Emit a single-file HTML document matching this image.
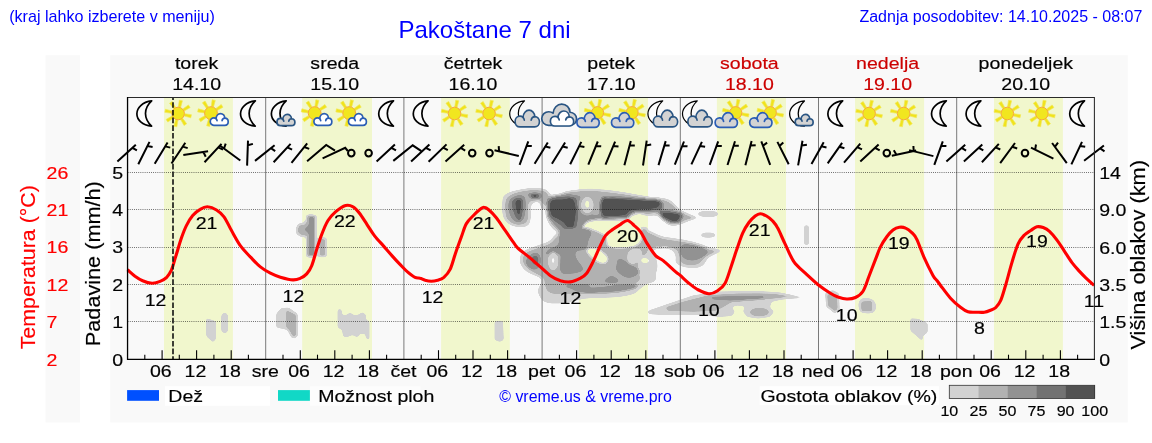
<!DOCTYPE html>
<html><head><meta charset="utf-8"><title>Pakoštane 7 dni</title>
<style>html,body{margin:0;padding:0;background:#fff;}svg{display:block;font-family:"Liberation Sans",sans-serif;}</style>
</head><body>
<svg width="1152" height="443" viewBox="0 0 1152 443">
<rect x="0" y="0" width="1152" height="443" fill="#fff"/>
<rect x="45.5" y="55.2" width="34.5" height="367.3" fill="#f9f9f9"/>
<rect x="110.2" y="55.2" width="1017.6" height="367.3" fill="#f9f9f9"/>
<rect x="164.0" y="97.5" width="68.9" height="261.9" fill="#f1f7cd"/>
<rect x="302.2" y="97.5" width="69.8" height="261.9" fill="#f1f7cd"/>
<rect x="441.1" y="97.5" width="68.7" height="261.9" fill="#f1f7cd"/>
<rect x="578.9" y="97.5" width="69.1" height="261.9" fill="#f1f7cd"/>
<rect x="716.9" y="97.5" width="69.1" height="261.9" fill="#f1f7cd"/>
<rect x="855.0" y="97.5" width="69.1" height="261.9" fill="#f1f7cd"/>
<rect x="994.0" y="97.5" width="68.9" height="261.9" fill="#f1f7cd"/>
<defs><filter id="cq" filterUnits="userSpaceOnUse" x="127" y="97" width="968.5" height="262" color-interpolation-filters="sRGB"><feGaussianBlur stdDeviation="1.3"/><feColorMatrix type="matrix" values="1 0 0 0 0  1 0 0 0 0  1 0 0 0 0  1 0 0 0 0"/><feComponentTransfer><feFuncR type="table" tableValues="0.824 0.824 0.824 0.824 0.824 0.824 0.824 0.824 0.824 0.824 0.824 0.824 0.824 0.824 0.824 0.824 0.824 0.824 0.761 0.698 0.698 0.698 0.698 0.698 0.698 0.698 0.698 0.698 0.698 0.698 0.635 0.573 0.573 0.573 0.573 0.573 0.573 0.573 0.573 0.573 0.573 0.573 0.510 0.447 0.447 0.447 0.447 0.447 0.447 0.447 0.447 0.447 0.447 0.447 0.385 0.322 0.322 0.322 0.322 0.322 0.322"/><feFuncG type="table" tableValues="0.824 0.824 0.824 0.824 0.824 0.824 0.824 0.824 0.824 0.824 0.824 0.824 0.824 0.824 0.824 0.824 0.824 0.824 0.761 0.698 0.698 0.698 0.698 0.698 0.698 0.698 0.698 0.698 0.698 0.698 0.635 0.573 0.573 0.573 0.573 0.573 0.573 0.573 0.573 0.573 0.573 0.573 0.510 0.447 0.447 0.447 0.447 0.447 0.447 0.447 0.447 0.447 0.447 0.447 0.385 0.322 0.322 0.322 0.322 0.322 0.322"/><feFuncB type="table" tableValues="0.824 0.824 0.824 0.824 0.824 0.824 0.824 0.824 0.824 0.824 0.824 0.824 0.824 0.824 0.824 0.824 0.824 0.824 0.761 0.698 0.698 0.698 0.698 0.698 0.698 0.698 0.698 0.698 0.698 0.698 0.635 0.573 0.573 0.573 0.573 0.573 0.573 0.573 0.573 0.573 0.573 0.573 0.510 0.447 0.447 0.447 0.447 0.447 0.447 0.447 0.447 0.447 0.447 0.447 0.385 0.322 0.322 0.322 0.322 0.322 0.322"/><feFuncA type="table" tableValues="0.000 0.000 0.000 0.000 0.000 0.000 0.500 1.000 1.000 1.000 1.000 1.000 1.000 1.000 1.000 1.000 1.000 1.000 1.000 1.000 1.000 1.000 1.000 1.000 1.000 1.000 1.000 1.000 1.000 1.000 1.000 1.000 1.000 1.000 1.000 1.000 1.000 1.000 1.000 1.000 1.000 1.000 1.000 1.000 1.000 1.000 1.000 1.000 1.000 1.000 1.000 1.000 1.000 1.000 1.000 1.000 1.000 1.000 1.000 1.000 1.000"/></feComponentTransfer></filter><clipPath id="pc"><rect x="128" y="98" width="966.5" height="260.5"/></clipPath></defs><g clip-path="url(#pc)"><g filter="url(#cq)"><rect x="100" y="80" width="1030" height="300" fill="#000"/><path d="M206.2,318.0 L216.2,321.2 L216.2,338.8 L213.0,342.5 L206.2,336.2Z" fill="rgb(51,51,51)"/><path d="M221.2,315.0 L225.0,312.0 L228.0,315.0 L228.0,331.2 L225.0,333.8 L221.2,331.2Z" fill="rgb(51,51,51)"/><path d="M276.2,313.8 L281.2,308.0 L288.8,307.5 L297.5,313.8 L298.0,335.0 L295.0,338.8 L291.2,337.5 L287.5,330.0 L276.2,327.5Z" fill="rgb(51,51,51)"/><path d="M286.2,310.0 L296.2,315.0 L296.2,336.2 L292.5,336.2 L290.0,331.2 L286.2,327.5Z" fill="rgb(102,102,102)"/><path d="M337.5,309.5 L341.2,308.8 L342.5,315.0 L346.2,315.0 L350.0,312.5 L353.8,315.0 L357.5,315.0 L362.5,312.0 L366.2,315.0 L366.2,320.0 L369.5,321.2 L369.5,340.0 L366.2,338.8 L365.0,333.8 L360.0,333.8 L357.5,337.5 L352.5,335.0 L346.2,337.5 L343.0,336.2 L342.0,330.0 L337.5,327.5Z" fill="rgb(51,51,51)"/><path d="M295.6,229.4 L297.6,224.0 L303.0,222.6 L306.0,219.9 L306.0,215.2 L311.2,214.2 L316.6,215.8 L316.6,256.5 L311.2,257.6 L306.0,256.5 L306.0,237.5 L300.3,236.8 L296.3,234.1Z" fill="rgb(51,51,51)"/><path d="M317.9,237.5 L326.7,237.5 L326.7,257.1 L317.9,257.1Z" fill="rgb(51,51,51)"/><path d="M297.6,229.4 L299.6,225.3 L304.4,225.0 L307.4,221.3 L307.4,216.1 L315.5,216.1 L315.5,256.2 L307.4,256.2 L307.4,235.9 L301.7,235.1 L298.3,232.8Z" fill="rgb(102,102,102)"/><path d="M319.6,239.1 L325.1,239.1 L325.1,255.8 L319.6,255.8Z" fill="rgb(102,102,102)"/><path d="M304.1,229.4 L308.7,225.3 L308.7,216.6 L313.9,216.6 L313.9,255.7 L308.7,255.7 L308.7,233.4Z" fill="rgb(153,153,153)"/><path d="M494.5,321.2 L503.0,320.5 L503.8,340.0 L500.0,342.0 L494.5,340.0Z" fill="rgb(51,51,51)"/><path d="M825.2,292.6 L833.0,290.0 L839.1,293.5 L839.6,310.0 L834.8,313.4 L826.1,306.5Z" fill="rgb(51,51,51)"/><path d="M827.1,294.3 L837.2,294.3 L837.7,308.9 L834.8,311.4 L827.8,305.4Z" fill="rgb(102,102,102)"/><path d="M859.1,301.3 C860.3,298.7 862.9,297.7 866.0,297.8 C869.2,297.9 872.9,299.0 874.7,301.6 C876.5,304.2 876.5,308.5 875.1,310.8 C873.7,313.2 870.8,313.4 867.8,313.4 C864.7,313.4 861.7,313.3 859.9,310.8 C858.2,308.4 857.9,303.9 859.1,301.3Z" fill="rgb(51,51,51)"/><path d="M861.3,301.5 L872.1,301.1 L872.1,311.5 L861.3,311.2Z" fill="rgb(102,102,102)"/><path d="M910.3,318.3 L918.2,318.7 L927.7,323.0 L927.7,332.6 L923.0,336.0 L922.5,341.2 L910.3,330.8Z" fill="rgb(51,51,51)"/><path d="M803.8,226.4 L806.4,224.7 L809.2,226.4 L809.2,243.8 L806.4,245.4 L803.8,243.8Z" fill="rgb(51,51,51)"/><path d="M718.6,213.9 C718.6,214.5 718.4,214.8 717.6,215.4 C716.8,215.9 716.1,216.2 714.7,216.5 C713.3,216.9 712.3,217.0 710.5,217.1 C708.8,217.3 707.7,217.3 705.9,217.1 C704.1,217.0 703.1,216.9 701.7,216.5 C700.3,216.2 699.6,215.9 698.8,215.4 C698.0,214.8 697.8,214.5 697.8,213.9 C697.8,213.4 698.0,213.0 698.8,212.5 C699.6,212.0 700.3,211.7 701.7,211.3 C703.1,211.0 704.1,210.8 705.9,210.7 C707.7,210.6 708.8,210.6 710.5,210.7 C712.3,210.8 713.3,211.0 714.7,211.3 C716.1,211.7 716.8,212.0 717.6,212.5 C718.4,213.0 718.6,213.4 718.6,213.9Z" fill="rgb(51,51,51)"/><path d="M715.9,235.1 C715.9,235.6 715.7,235.9 715.1,236.3 C714.5,236.7 714.0,236.9 713.0,237.2 C711.9,237.4 711.2,237.6 709.9,237.7 C708.6,237.8 707.8,237.8 706.5,237.7 C705.2,237.6 704.5,237.4 703.4,237.2 C702.4,236.9 701.9,236.7 701.3,236.3 C700.7,235.9 700.6,235.6 700.6,235.1 C700.6,234.7 700.7,234.4 701.3,234.0 C701.9,233.6 702.4,233.4 703.4,233.1 C704.5,232.8 705.2,232.7 706.5,232.6 C707.8,232.5 708.6,232.5 709.9,232.6 C711.2,232.7 711.9,232.8 713.0,233.1 C714.0,233.4 714.5,233.6 715.1,234.0 C715.7,234.4 715.9,234.7 715.9,235.1Z" fill="rgb(51,51,51)"/><path d="M545.6,196.9 C548.4,194.2 555.0,195.0 559.5,193.8 C564.0,192.6 562.6,192.0 568.2,191.0 C573.8,190.0 580.4,189.0 587.3,188.7 C594.3,188.5 596.0,188.9 602.9,189.6 C609.9,190.3 613.4,190.7 622.1,192.0 C630.7,193.4 638.4,195.0 646.4,196.2 C654.4,197.4 657.3,197.0 662.2,197.9 C667.1,198.8 667.4,198.5 670.9,200.7 C674.4,202.9 675.8,206.4 679.6,209.1 C683.4,211.8 686.5,212.5 690.0,214.3 C693.5,216.0 697.0,216.5 697.0,217.8 C697.0,219.0 693.1,219.3 690.0,220.5 C686.9,221.8 685.1,223.0 681.3,224.0 C677.5,225.0 674.4,226.1 670.9,225.6 C667.4,225.1 666.6,223.5 663.8,221.6 C660.9,219.7 660.3,217.2 656.8,216.0 C653.3,214.8 649.9,216.1 646.4,215.7 C642.9,215.3 642.4,213.8 639.4,213.9 C636.5,214.1 634.0,215.2 631.6,216.4 C629.2,217.5 631.3,218.9 627.3,219.8 C623.3,220.7 618.2,220.7 611.6,220.9 C605.0,221.1 599.6,220.1 594.3,220.9 C588.9,221.6 587.3,222.2 584.7,224.7 C582.1,227.2 582.6,230.1 581.2,233.4 C579.8,236.7 579.7,239.0 577.7,241.2 C575.8,243.5 574.6,244.5 571.7,244.7 C568.7,244.9 565.8,244.3 563.0,242.1 C560.2,239.8 560.2,236.5 557.8,233.4 C555.3,230.3 553.1,229.6 550.8,226.4 C548.6,223.3 547.5,221.6 546.5,217.8 C545.4,213.9 545.8,211.5 545.6,207.3 C545.4,203.2 542.8,199.6 545.6,196.9Z" fill="rgb(51,51,51)"/><path d="M502.2,203.0 C502.9,199.5 501.8,196.9 506.0,194.1 C510.2,191.3 515.8,190.0 523.0,188.9 C530.2,187.8 536.7,187.6 542.1,188.6 C547.5,189.5 548.1,191.4 549.9,193.8 C551.8,196.1 551.2,197.3 551.2,200.4 C551.2,203.4 551.8,207.3 549.9,209.1 C548.1,210.8 544.2,210.3 542.1,209.1 C540.0,207.8 541.1,204.3 539.5,203.0 C538.0,201.7 536.0,201.6 534.3,202.5 C532.6,203.3 531.5,204.3 530.8,207.3 C530.1,210.4 531.5,214.1 530.8,217.8 C530.1,221.4 530.3,223.9 527.4,225.7 C524.4,227.6 520.3,227.6 516.1,226.8 C511.8,226.0 508.8,224.6 506.0,221.6 C503.2,218.6 502.9,215.4 502.2,211.7 C501.4,208.0 501.4,206.5 502.2,203.0Z" fill="rgb(51,51,51)"/><path d="M505.3,203.9 C506.0,200.9 505.0,198.8 508.8,196.2 C512.5,193.6 517.4,192.1 523.9,191.0 C530.4,189.9 536.4,189.8 541.3,190.6 C546.1,191.5 546.8,192.5 548.2,195.2 C549.6,197.8 549.1,201.9 548.2,203.9 C547.3,205.8 545.4,205.4 543.9,204.7 C542.3,204.0 542.5,201.3 540.4,200.4 C538.3,199.4 535.9,199.2 533.4,200.0 C531.0,200.9 529.3,201.3 528.2,204.7 C527.2,208.1 528.9,213.2 528.2,216.9 C527.5,220.6 527.2,221.8 524.8,223.3 C522.3,224.8 519.5,225.1 516.1,224.4 C512.7,223.6 509.9,222.2 507.7,219.5 C505.6,216.8 505.8,213.9 505.3,210.8 C504.8,207.7 504.6,206.8 505.3,203.9Z" fill="rgb(102,102,102)"/><path d="M508.8,202.1 C509.7,198.7 511.7,197.9 514.3,196.6 C517.0,195.2 519.9,194.7 522.1,195.5 C524.4,196.3 525.1,196.4 525.6,200.4 C526.1,204.3 525.7,210.9 524.8,215.1 C523.8,219.4 523.0,220.4 520.9,221.6 C518.8,222.7 516.6,222.5 514.3,220.9 C512.0,219.2 510.6,217.2 509.5,213.4 C508.3,209.7 507.8,205.5 508.8,202.1Z" fill="rgb(153,153,153)"/><path d="M528.2,193.8 C530.0,192.7 536.7,192.5 539.5,193.1 C542.3,193.7 542.6,195.6 542.1,196.9 C541.6,198.2 539.2,199.2 536.9,199.5 C534.7,199.9 532.6,199.8 530.8,198.6 C529.1,197.5 526.5,194.9 528.2,193.8Z" fill="rgb(153,153,153)"/><path d="M512.6,200.4 C514.2,197.7 519.2,197.2 521.3,198.3 C523.4,199.3 523.0,201.7 523.0,205.6 C523.0,209.5 522.3,214.9 521.3,217.8 C520.2,220.6 519.4,221.1 517.8,219.8 C516.2,218.6 514.5,215.6 513.5,211.7 C512.4,207.8 511.0,203.1 512.6,200.4Z" fill="rgb(204,204,204)"/><path d="M530.8,194.3 C532.1,193.6 537.1,193.6 538.7,194.3 C540.2,195.0 539.9,197.1 538.7,197.8 C537.4,198.5 534.1,198.5 532.6,197.8 C531.0,197.1 529.6,195.0 530.8,194.3Z" fill="rgb(204,204,204)"/><path d="M515.7,201.4 C516.6,199.7 520.0,198.8 520.9,200.4 C521.9,201.9 521.0,206.0 520.6,209.1 C520.2,212.1 519.7,215.7 518.8,215.7 C518.0,215.7 517.0,211.9 516.4,209.1 C515.8,206.2 514.8,203.2 515.7,201.4Z" fill="rgb(255,255,255)"/><path d="M532.6,194.8 C533.4,194.4 536.5,194.4 537.3,194.8 C538.1,195.2 537.4,196.5 536.6,196.9 C535.7,197.3 533.9,197.3 533.1,196.9 C532.3,196.5 531.7,195.2 532.6,194.8Z" fill="rgb(255,255,255)"/><path d="M548.2,199.0 C550.6,196.6 555.5,196.8 559.5,195.5 C563.5,194.3 562.6,193.7 568.2,192.7 C573.8,191.8 580.4,191.0 587.3,190.8 C594.3,190.6 596.0,191.0 602.9,191.7 C609.9,192.3 613.4,192.9 622.1,194.1 C630.7,195.4 638.4,196.8 646.4,197.9 C654.4,199.1 657.3,199.0 662.0,200.0 C666.7,201.0 666.7,201.0 669.8,203.0 C673.0,205.0 674.4,207.5 677.7,209.9 C681.0,212.4 683.4,213.5 686.4,215.1 C689.3,216.8 692.4,217.3 692.4,218.3 C692.4,219.2 688.8,219.0 686.4,219.8 C683.9,220.6 683.2,221.5 680.3,222.3 C677.3,223.1 674.5,224.2 671.6,223.8 C668.6,223.5 668.1,222.3 665.5,220.4 C662.9,218.4 662.4,215.3 658.5,213.9 C654.7,212.6 650.6,213.9 646.4,213.6 C642.2,213.3 641.0,212.2 637.7,212.5 C634.4,212.9 632.1,213.9 629.9,215.1 C627.6,216.4 630.1,217.8 626.4,218.6 C622.8,219.5 617.7,219.3 611.6,219.5 C605.6,219.7 601.2,218.9 596.0,219.5 C590.8,220.1 588.3,220.5 585.6,222.6 C582.8,224.7 583.7,226.7 582.1,229.9 C580.5,233.1 579.8,236.0 577.7,238.6 C575.7,241.2 574.3,242.4 571.7,242.9 C569.1,243.5 567.2,243.3 564.7,241.2 C562.3,239.1 561.9,235.8 559.5,232.5 C557.1,229.2 554.8,227.8 552.6,224.7 C550.3,221.6 549.2,220.4 548.2,216.9 C547.2,213.4 547.7,210.9 547.7,207.3 C547.7,203.7 545.8,201.3 548.2,199.0Z" fill="rgb(102,102,102)"/><path d="M547.3,197.8 L568.2,193.8 L580.4,196.0 L583.8,210.8 L594.3,215.1 L601.2,214.3 L601.2,198.6 L611.6,196.0 L646.4,199.5 L661.2,202.1 L663.8,209.1 L679.4,212.5 L682.9,217.8 L677.7,223.8 L667.2,221.2 L662.0,217.8 L656.8,210.8 L634.2,211.7 L627.3,217.8 L611.6,218.6 L597.7,218.6 L587.3,220.4 L582.1,226.4 L576.9,236.9 L571.7,242.1 L564.7,240.3 L559.5,229.9 L552.6,223.0 L547.3,216.0Z" fill="rgb(153,153,153)"/><path d="M596.0,205.1 C596.0,206.9 595.8,208.0 595.1,209.6 C594.5,211.2 593.9,212.1 592.7,213.2 C591.5,214.3 590.7,214.8 589.2,215.2 C587.8,215.6 586.8,215.6 585.4,215.2 C583.9,214.8 583.1,214.3 581.9,213.2 C580.7,212.1 580.1,211.2 579.5,209.6 C578.8,208.0 578.6,206.9 578.6,205.1 C578.6,203.3 578.8,202.2 579.5,200.5 C580.1,198.9 580.7,198.0 581.9,196.9 C583.1,195.8 583.9,195.3 585.4,194.9 C586.8,194.5 587.8,194.5 589.2,194.9 C590.7,195.3 591.5,195.8 592.7,196.9 C593.9,198.0 594.5,198.9 595.1,200.5 C595.8,202.2 596.0,203.3 596.0,205.1Z" fill="rgb(102,102,102)"/><path d="M593.6,205.1 C593.6,206.5 593.4,207.3 592.9,208.6 C592.5,209.9 592.1,210.6 591.2,211.5 C590.4,212.3 589.8,212.7 588.7,213.0 C587.6,213.3 587.0,213.3 585.9,213.0 C584.9,212.7 584.3,212.3 583.4,211.5 C582.6,210.6 582.1,209.9 581.7,208.6 C581.2,207.3 581.1,206.5 581.1,205.1 C581.1,203.7 581.2,202.8 581.7,201.5 C582.1,200.2 582.6,199.6 583.4,198.7 C584.3,197.8 584.9,197.4 585.9,197.1 C587.0,196.8 587.6,196.8 588.7,197.1 C589.8,197.4 590.4,197.8 591.2,198.7 C592.1,199.6 592.5,200.2 592.9,201.5 C593.4,202.8 593.6,203.7 593.6,205.1Z" fill="rgb(51,51,51)"/><path d="M589.4,204.2 C589.4,204.9 589.3,205.3 589.2,205.9 C589.0,206.5 588.9,206.8 588.6,207.2 C588.3,207.6 588.1,207.8 587.8,207.9 C587.4,208.1 587.2,208.1 586.8,207.9 C586.5,207.8 586.3,207.6 586.0,207.2 C585.7,206.8 585.6,206.5 585.4,205.9 C585.3,205.3 585.2,204.9 585.2,204.2 C585.2,203.5 585.3,203.1 585.4,202.5 C585.6,201.9 585.7,201.6 586.0,201.2 C586.3,200.8 586.5,200.6 586.8,200.5 C587.2,200.3 587.4,200.3 587.8,200.5 C588.1,200.6 588.3,200.8 588.6,201.2 C588.9,201.6 589.0,201.9 589.2,202.5 C589.3,203.1 589.4,203.5 589.4,204.2Z" fill="rgb(0,0,0)"/><path d="M549.1,199.5 C553.6,195.9 566.0,196.4 571.7,196.9 C577.3,197.4 576.0,197.9 577.2,202.1 C578.5,206.3 578.4,211.7 577.9,217.8 C577.4,223.8 576.2,228.1 574.8,232.5 C573.4,237.0 572.5,239.8 570.8,240.0 C569.1,240.2 567.9,236.4 566.1,233.7 C564.3,231.0 564.1,229.0 561.8,226.4 C559.4,223.8 556.8,223.0 554.3,220.7 C551.8,218.4 550.1,219.4 549.1,215.1 C548.0,210.9 544.6,203.2 549.1,199.5Z" fill="rgb(204,204,204)"/><path d="M551.2,201.2 C553.5,198.3 558.9,200.0 563.0,199.5 C567.1,199.0 569.2,197.2 571.7,198.6 C574.2,200.0 574.8,202.6 575.5,206.5 C576.2,210.3 575.7,213.2 575.1,217.8 C574.6,222.3 573.6,225.3 572.7,229.0 C571.8,232.8 571.5,236.6 570.5,236.5 C569.4,236.4 568.9,231.3 567.5,228.5 C566.1,225.7 565.8,224.7 563.7,222.6 C561.5,220.6 559.2,219.9 556.7,218.3 C554.2,216.6 552.3,217.7 551.2,214.3 C550.1,210.9 548.8,204.2 551.2,201.2Z" fill="rgb(255,255,255)"/><path d="M601.2,199.0 C603.3,195.2 602.4,197.2 611.6,197.2 C620.8,197.2 637.4,198.2 647.3,199.0 C657.2,199.8 658.4,199.2 661.2,201.2 C663.9,203.3 663.9,207.0 661.2,209.1 C658.4,211.1 652.6,211.0 647.3,211.7 C641.9,212.3 638.4,211.0 634.2,212.2 C630.1,213.3 630.9,216.3 626.4,217.4 C621.9,218.5 616.7,218.0 611.6,217.8 C606.6,217.5 603.3,220.1 601.2,216.4 C599.1,212.6 599.1,202.8 601.2,199.0Z" fill="rgb(204,204,204)"/><path d="M602.9,200.4 C604.7,197.2 602.9,199.0 611.6,199.0 C620.3,199.0 637.0,199.8 646.4,200.4 C655.8,200.9 656.3,200.4 658.5,201.8 C660.8,203.2 660.1,205.9 657.7,207.3 C655.2,208.8 651.8,208.4 646.4,209.1 C641.0,209.7 635.1,209.2 630.7,210.5 C626.4,211.7 628.5,214.1 624.7,215.1 C620.8,216.2 616.0,215.8 611.6,215.7 C607.3,215.6 604.7,217.7 602.9,214.6 C601.2,211.6 601.2,203.5 602.9,200.4Z" fill="rgb(255,255,255)"/><path d="M661.2,210.8 C665.0,210.2 676.1,211.3 680.3,212.9 C684.4,214.5 682.9,216.5 682.0,218.6 C681.1,220.7 679.1,223.0 675.9,223.3 C672.8,223.7 669.3,221.8 666.4,220.4 C663.4,218.9 662.2,217.9 661.2,216.0 C660.1,214.1 657.3,211.4 661.2,210.8Z" fill="rgb(204,204,204)"/><path d="M663.8,212.9 C666.9,212.5 675.4,213.3 678.5,214.3 C681.7,215.3 680.1,216.3 679.4,217.8 C678.7,219.2 677.5,221.4 675.1,221.6 C672.6,221.7 669.7,219.7 667.2,218.6 C664.8,217.5 663.6,217.2 662.9,216.0 C662.2,214.9 660.6,213.2 663.8,212.9Z" fill="rgb(255,255,255)"/><path d="M520.0,258.0 C520.5,255.1 520.8,253.4 524.0,251.0 C527.2,248.6 531.0,248.0 536.0,246.0 C541.0,244.0 544.2,243.8 549.0,241.0 C553.8,238.2 552.8,234.6 560.0,232.0 C567.2,229.4 569.0,229.1 585.0,228.0 C601.0,226.9 627.3,226.1 640.0,226.5 C652.7,226.9 644.5,228.4 648.7,230.2 C652.9,232.0 656.0,234.1 660.9,235.7 C665.8,237.3 668.2,237.2 673.1,238.1 C678.0,239.0 680.4,239.0 685.3,240.0 C690.2,241.0 692.6,241.5 697.5,243.0 C702.4,244.5 705.1,245.7 709.7,247.3 C714.3,248.9 720.7,248.8 720.6,250.8 C720.5,252.8 712.7,254.5 709.0,257.5 C705.3,260.5 705.8,263.9 702.0,266.0 C698.2,268.1 695.0,268.4 690.0,268.0 C685.0,267.6 679.9,266.4 677.0,264.0 C674.1,261.6 676.5,258.7 675.5,256.0 C674.5,253.3 674.5,252.0 672.0,250.5 C669.5,249.0 666.8,248.4 663.0,248.5 C659.2,248.6 654.4,249.1 653.0,251.0 C651.6,252.9 655.1,255.0 656.0,258.0 C656.9,261.0 657.5,262.8 657.5,266.0 C657.5,269.2 656.5,271.0 656.0,274.0 C655.5,277.0 656.8,279.0 655.0,281.0 C653.2,283.0 650.0,282.4 647.0,284.0 C644.0,285.6 643.0,286.9 640.0,289.0 C637.0,291.1 637.6,292.8 632.0,294.5 C626.4,296.2 621.0,296.7 612.0,297.5 C603.0,298.3 595.4,297.6 587.0,298.5 C578.6,299.4 576.2,301.0 570.0,302.0 C563.8,303.0 561.0,303.5 556.0,303.5 C551.0,303.5 548.2,303.3 545.0,302.0 C541.8,300.7 541.4,299.4 540.0,297.0 C538.6,294.6 537.8,292.8 538.0,290.0 C538.2,287.2 540.6,285.4 541.0,283.0 C541.4,280.6 542.6,280.1 540.0,278.0 C537.4,275.9 531.7,275.1 528.0,272.6 C524.3,270.1 522.9,268.5 521.3,265.6 C519.7,262.7 519.5,260.9 520.0,258.0Z" fill="rgb(51,51,51)"/><path d="M523.0,258.0 C523.5,255.6 524.2,254.4 527.0,252.5 C529.8,250.6 532.4,250.3 537.0,248.5 C541.6,246.7 545.2,246.2 550.0,243.5 C554.8,240.8 554.0,237.5 561.0,235.0 C568.0,232.5 569.2,232.2 585.0,231.0 C600.8,229.8 627.4,228.7 640.0,229.0 C652.6,229.3 644.0,230.7 648.0,232.5 C652.0,234.3 655.0,236.4 660.0,238.0 C665.0,239.6 668.0,239.6 673.0,240.5 C678.0,241.4 680.2,241.5 685.0,242.5 C689.8,243.5 692.4,244.1 697.0,245.5 C701.6,246.9 704.4,248.3 708.0,249.5 C711.6,250.7 715.6,250.0 715.0,251.5 C714.4,253.0 708.2,254.6 705.0,257.0 C701.8,259.4 702.2,261.9 699.0,263.5 C695.8,265.1 692.6,265.3 689.0,265.0 C685.4,264.7 683.0,264.2 681.0,262.0 C679.0,259.8 680.4,256.9 679.0,254.0 C677.6,251.1 677.2,249.2 674.0,247.5 C670.8,245.8 667.8,245.4 663.0,245.5 C658.2,245.6 653.4,246.3 650.0,248.0 C646.6,249.7 648.0,252.2 646.0,254.0 C644.0,255.8 641.6,254.6 640.0,257.0 C638.4,259.4 638.2,262.6 638.0,266.0 C637.8,269.4 638.6,271.4 639.0,274.0 C639.4,276.6 640.6,277.2 640.0,279.0 C639.4,280.8 638.0,281.4 636.0,283.0 C634.0,284.6 632.8,285.4 630.0,287.0 C627.2,288.6 626.4,289.9 622.0,291.0 C617.6,292.1 615.0,292.1 608.0,292.5 C601.0,292.9 595.4,292.7 587.0,293.0 C578.6,293.3 572.2,293.8 566.0,294.0 C559.8,294.2 559.6,294.5 556.0,294.0 C552.4,293.5 550.2,293.3 548.0,291.5 C545.8,289.7 546.0,287.7 545.0,285.0 C544.0,282.3 545.8,280.9 543.0,278.0 C540.2,275.1 534.7,273.2 531.0,270.5 C527.3,267.8 526.1,267.0 524.5,264.5 C522.9,262.0 522.5,260.4 523.0,258.0Z" fill="rgb(102,102,102)"/><path d="M629.0,251.0 C631.4,248.4 637.6,247.8 640.0,249.0 C642.4,250.2 642.2,254.0 641.0,257.0 C639.8,260.0 636.6,263.0 634.0,264.0 C631.4,265.0 629.0,264.6 628.0,262.0 C627.0,259.4 626.6,253.6 629.0,251.0Z" fill="rgb(51,51,51)"/><path d="M525.9,261.2 C526.2,258.7 528.0,256.6 530.1,254.9 C532.2,253.2 534.3,252.4 536.4,252.8 C538.5,253.2 539.9,254.5 540.6,257.0 C541.3,259.5 541.0,262.9 539.9,265.4 C538.8,267.9 537.2,269.2 535.0,269.6 C532.8,270.0 530.5,269.2 528.7,267.5 C526.9,265.8 525.6,263.7 525.9,261.2Z" fill="rgb(153,153,153)"/><path d="M531.5,258.4 C532.1,256.9 534.3,255.3 535.7,255.6 C537.1,255.9 538.4,258.0 538.5,259.8 C538.6,261.6 537.5,264.0 536.4,264.7 C535.3,265.4 533.9,264.6 532.9,263.3 C531.9,262.0 530.9,259.9 531.5,258.4Z" fill="rgb(204,204,204)"/><path d="M560.8,230.8 C557.1,233.9 560.5,240.2 558.2,243.9 C555.8,247.5 551.6,247.0 549.0,249.1 C546.5,251.2 545.4,253.2 545.4,254.3 C545.4,255.4 546.2,254.6 549.0,254.6 C551.9,254.6 557.3,252.8 559.5,254.3 C561.7,255.8 559.9,258.6 560.2,262.2 C560.4,265.7 559.4,269.6 560.8,272.0 C562.3,274.4 564.0,273.8 567.4,274.0 C570.8,274.1 574.7,273.7 577.8,272.6 C581.0,271.6 583.3,271.6 583.1,268.7 C582.8,265.8 577.8,261.7 576.5,258.3 C575.2,254.8 574.7,253.5 576.5,251.7 C578.4,249.9 583.3,251.2 585.7,249.1 C588.0,247.0 587.3,244.9 588.3,241.2 C589.3,237.6 593.3,233.4 590.9,230.8 C588.6,228.1 582.5,228.1 576.5,228.1 C570.5,228.1 564.5,227.6 560.8,230.8Z" fill="rgb(153,153,153)"/><path d="M605.3,281.2 C604.0,280.1 609.2,275.9 611.9,275.9 C614.5,275.9 619.7,280.1 618.4,281.2 C617.1,282.2 606.6,282.2 605.3,281.2Z" fill="rgb(153,153,153)"/><path d="M567.4,284.7 C571.0,283.9 584.6,283.5 588.3,284.2 C592.0,284.8 589.3,287.3 585.7,288.1 C582.0,288.9 573.6,289.0 570.0,288.4 C566.3,287.7 563.7,285.5 567.4,284.7Z" fill="rgb(153,153,153)"/><path d="M619.5,258.7 C622.2,258.5 626.0,261.4 630.0,264.0 C634.0,266.6 639.6,268.9 639.4,271.7 C639.2,274.5 633.3,277.7 629.0,277.8 C624.7,277.9 620.2,274.6 617.7,272.0 C615.2,269.4 616.1,267.7 616.5,265.0 C616.9,262.3 616.8,258.9 619.5,258.7Z" fill="rgb(153,153,153)"/><path d="M604.7,282.1 C603.3,280.9 608.8,276.1 611.6,276.1 C614.4,276.1 620.0,280.9 618.6,282.1 C617.2,283.3 606.1,283.3 604.7,282.1Z" fill="rgb(153,153,153)"/><path d="M571.7,285.6 C575.2,284.7 584.6,287.6 594.3,287.4 C604.0,287.2 611.6,285.2 620.3,284.8 C629.0,284.4 636.7,284.4 637.7,285.6 C638.7,286.8 634.2,289.2 625.5,290.8 C616.8,292.4 604.0,293.2 594.3,293.4 C584.6,293.6 581.4,293.3 576.9,291.7 C572.4,290.1 568.2,286.5 571.7,285.6Z" fill="rgb(153,153,153)"/><path d="M653.6,242.9 C654.3,242.0 663.1,241.2 664.6,241.9 C666.1,242.6 663.1,246.4 660.9,246.6 C658.7,246.8 652.9,243.8 653.6,242.9Z" fill="rgb(153,153,153)"/><path d="M681.0,246.0 C682.9,243.4 687.2,243.2 692.6,244.3 C698.0,245.4 707.3,248.3 708.0,251.4 C708.7,254.5 701.0,258.8 696.0,260.0 C691.0,261.2 686.0,260.3 683.0,257.5 C680.0,254.7 679.1,248.6 681.0,246.0Z" fill="rgb(153,153,153)"/><path d="M640.0,232.0 C641.8,230.8 645.6,232.6 650.0,234.0 C654.4,235.4 656.8,237.2 662.0,239.0 C667.2,240.8 672.8,240.8 676.0,243.0 C679.2,245.2 679.2,249.2 678.0,250.0 C676.8,250.8 673.6,247.8 670.0,247.0 C666.4,246.2 664.4,246.0 660.0,246.0 C655.6,246.0 651.8,248.2 648.0,247.0 C644.2,245.8 642.6,243.0 641.0,240.0 C639.4,237.0 638.2,233.2 640.0,232.0Z" fill="rgb(102,102,102)"/><path d="M591.0,228.0 C589.8,226.2 592.2,225.1 594.0,224.0 C595.8,222.9 596.4,222.8 600.0,222.5 C603.6,222.2 606.6,222.5 612.0,222.3 C617.4,222.1 621.4,221.3 627.0,221.5 C632.6,221.7 637.2,222.0 640.0,223.5 C642.8,225.0 640.6,226.1 641.0,229.0 C641.4,231.9 642.8,234.8 642.0,238.0 C641.2,241.2 639.8,243.1 637.0,245.0 C634.2,246.9 633.0,247.0 628.0,247.5 C623.0,248.0 616.2,248.2 612.0,247.5 C607.8,246.8 608.2,246.1 607.0,244.0 C605.8,241.9 607.4,239.2 606.0,237.0 C604.6,234.8 603.0,234.8 600.0,233.0 C597.0,231.2 592.2,229.8 591.0,228.0Z" fill="rgb(0,0,0)"/><path d="M586.8,250.0 C587.6,248.3 591.8,248.0 595.2,248.6 C598.6,249.2 601.1,250.8 603.6,252.8 C606.1,254.8 607.5,256.3 607.8,258.4 C608.1,260.5 607.0,262.6 605.0,263.3 C603.0,264.0 600.8,263.2 598.0,261.9 C595.2,260.6 593.2,259.4 591.0,257.0 C588.8,254.6 586.0,251.7 586.8,250.0Z" fill="rgb(0,0,0)"/><path d="M558.5,261.2 C558.5,262.8 558.4,263.7 558.0,265.1 C557.6,266.6 557.2,267.3 556.5,268.3 C555.8,269.3 555.3,269.7 554.4,270.1 C553.5,270.4 552.9,270.4 552.0,270.1 C551.1,269.7 550.6,269.3 549.9,268.3 C549.2,267.3 548.8,266.6 548.4,265.1 C548.0,263.7 547.9,262.8 547.9,261.2 C547.9,259.6 548.0,258.7 548.4,257.3 C548.8,255.8 549.2,255.1 549.9,254.1 C550.6,253.1 551.1,252.7 552.0,252.3 C552.9,252.0 553.5,252.0 554.4,252.3 C555.3,252.7 555.8,253.1 556.5,254.1 C557.2,255.1 557.6,255.8 558.0,257.3 C558.4,258.7 558.5,259.6 558.5,261.2Z" fill="rgb(51,51,51)"/><path d="M554.4,260.5 C554.4,261.1 554.4,261.5 554.3,262.0 C554.2,262.6 554.1,262.9 553.9,263.2 C553.8,263.6 553.7,263.8 553.5,263.9 C553.3,264.0 553.1,264.0 552.9,263.9 C552.7,263.8 552.6,263.6 552.5,263.2 C552.3,262.9 552.2,262.6 552.1,262.0 C552.0,261.5 552.0,261.1 552.0,260.5 C552.0,259.9 552.0,259.5 552.1,259.0 C552.2,258.4 552.3,258.1 552.5,257.8 C552.6,257.4 552.7,257.2 552.9,257.1 C553.1,257.0 553.3,257.0 553.5,257.1 C553.7,257.2 553.8,257.4 553.9,257.8 C554.1,258.1 554.2,258.4 554.3,259.0 C554.4,259.5 554.4,259.9 554.4,260.5Z" fill="rgb(0,0,0)"/><path d="M641.5,259.0 C642.1,258.1 643.6,257.9 645.0,258.0 C646.4,258.1 648.1,258.6 648.7,259.5 C649.3,260.4 649.3,261.9 648.0,262.5 C646.7,263.1 643.3,263.2 642.0,262.5 C640.7,261.8 640.9,259.9 641.5,259.0Z" fill="rgb(0,0,0)"/><path d="M650.0,309.9 L667.4,303.9 L693.4,295.2 L719.5,291.4 L754.3,290.8 L780.3,292.6 L801.2,296.9 L802.0,298.0 L782.1,299.5 L771.6,302.1 L769.9,307.3 L774.2,311.7 L769.9,316.9 L757.7,318.6 L747.3,316.9 L743.0,311.7 L744.7,306.5 L736.9,305.6 L731.7,307.3 L735.1,311.7 L731.7,316.0 L719.5,316.9 L702.1,315.2 L667.4,315.2 L650.0,314.3 L646.5,312.2Z" fill="rgb(51,51,51)"/><path d="M665.6,307.3 L684.8,301.3 L707.3,295.5 L736.9,293.4 L771.6,293.4 L792.5,296.6 L771.6,298.7 L747.3,300.4 L731.7,302.1 L723.0,307.3 L716.0,310.8 L693.4,311.7 L667.4,310.8Z" fill="rgb(102,102,102)"/><path d="M710.8,296.6 L762.9,295.5 L764.7,298.7 L733.4,300.7 L712.6,299.5Z" fill="rgb(153,153,153)"/><path d="M769.0,312.2 C769.0,313.0 768.8,313.4 768.1,314.1 C767.4,314.8 766.7,315.1 765.4,315.6 C764.1,316.1 763.2,316.3 761.6,316.4 C760.0,316.6 759.0,316.6 757.3,316.4 C755.7,316.3 754.8,316.1 753.5,315.6 C752.2,315.1 751.6,314.8 750.9,314.1 C750.1,313.4 749.9,313.0 749.9,312.2 C749.9,311.5 750.1,311.0 750.9,310.3 C751.6,309.6 752.2,309.3 753.5,308.8 C754.8,308.3 755.7,308.1 757.3,308.0 C759.0,307.8 760.0,307.8 761.6,308.0 C763.2,308.1 764.1,308.3 765.4,308.8 C766.7,309.3 767.4,309.6 768.1,310.3 C768.8,311.0 769.0,311.5 769.0,312.2Z" fill="rgb(102,102,102)"/></g></g>
<line x1="265.7" y1="97.5" x2="265.7" y2="359.4" stroke="#7a7a7a" stroke-width="1"/>
<line x1="403.9" y1="97.5" x2="403.9" y2="359.4" stroke="#7a7a7a" stroke-width="1"/>
<line x1="542.1" y1="97.5" x2="542.1" y2="359.4" stroke="#7a7a7a" stroke-width="1"/>
<line x1="680.3" y1="97.5" x2="680.3" y2="359.4" stroke="#7a7a7a" stroke-width="1"/>
<line x1="818.5" y1="97.5" x2="818.5" y2="359.4" stroke="#7a7a7a" stroke-width="1"/>
<line x1="956.7" y1="97.5" x2="956.7" y2="359.4" stroke="#7a7a7a" stroke-width="1"/>
<line x1="128.0" y1="172.50" x2="1094.9" y2="172.50" stroke="#000" stroke-opacity="0.8" stroke-width="0.82" stroke-dasharray="0.82 1.305" stroke-dashoffset="0.3"/>
<line x1="128.0" y1="209.50" x2="1094.9" y2="209.50" stroke="#000" stroke-opacity="0.8" stroke-width="0.82" stroke-dasharray="0.82 1.305" stroke-dashoffset="0.3"/>
<line x1="128.0" y1="247.50" x2="1094.9" y2="247.50" stroke="#000" stroke-opacity="0.8" stroke-width="0.82" stroke-dasharray="0.82 1.305" stroke-dashoffset="0.3"/>
<line x1="128.0" y1="284.50" x2="1094.9" y2="284.50" stroke="#000" stroke-opacity="0.8" stroke-width="0.82" stroke-dasharray="0.82 1.305" stroke-dashoffset="0.3"/>
<line x1="128.0" y1="321.50" x2="1094.9" y2="321.50" stroke="#000" stroke-opacity="0.8" stroke-width="0.82" stroke-dasharray="0.82 1.305" stroke-dashoffset="0.3"/>
<line x1="144.8" y1="359.4" x2="144.8" y2="354.7" stroke="#000" stroke-width="1.1"/>
<line x1="162.1" y1="359.4" x2="162.1" y2="350.2" stroke="#000" stroke-width="1.1"/>
<line x1="179.3" y1="359.4" x2="179.3" y2="354.7" stroke="#000" stroke-width="1.1"/>
<line x1="196.6" y1="359.4" x2="196.6" y2="350.2" stroke="#000" stroke-width="1.1"/>
<line x1="213.9" y1="359.4" x2="213.9" y2="354.7" stroke="#000" stroke-width="1.1"/>
<line x1="231.2" y1="359.4" x2="231.2" y2="350.2" stroke="#000" stroke-width="1.1"/>
<line x1="248.4" y1="359.4" x2="248.4" y2="354.7" stroke="#000" stroke-width="1.1"/>
<line x1="283.0" y1="359.4" x2="283.0" y2="354.7" stroke="#000" stroke-width="1.1"/>
<line x1="300.3" y1="359.4" x2="300.3" y2="350.2" stroke="#000" stroke-width="1.1"/>
<line x1="317.5" y1="359.4" x2="317.5" y2="354.7" stroke="#000" stroke-width="1.1"/>
<line x1="334.8" y1="359.4" x2="334.8" y2="350.2" stroke="#000" stroke-width="1.1"/>
<line x1="352.1" y1="359.4" x2="352.1" y2="354.7" stroke="#000" stroke-width="1.1"/>
<line x1="369.4" y1="359.4" x2="369.4" y2="350.2" stroke="#000" stroke-width="1.1"/>
<line x1="386.6" y1="359.4" x2="386.6" y2="354.7" stroke="#000" stroke-width="1.1"/>
<line x1="421.2" y1="359.4" x2="421.2" y2="354.7" stroke="#000" stroke-width="1.1"/>
<line x1="438.5" y1="359.4" x2="438.5" y2="350.2" stroke="#000" stroke-width="1.1"/>
<line x1="455.7" y1="359.4" x2="455.7" y2="354.7" stroke="#000" stroke-width="1.1"/>
<line x1="473.0" y1="359.4" x2="473.0" y2="350.2" stroke="#000" stroke-width="1.1"/>
<line x1="490.3" y1="359.4" x2="490.3" y2="354.7" stroke="#000" stroke-width="1.1"/>
<line x1="507.6" y1="359.4" x2="507.6" y2="350.2" stroke="#000" stroke-width="1.1"/>
<line x1="524.8" y1="359.4" x2="524.8" y2="354.7" stroke="#000" stroke-width="1.1"/>
<line x1="559.4" y1="359.4" x2="559.4" y2="354.7" stroke="#000" stroke-width="1.1"/>
<line x1="576.6" y1="359.4" x2="576.6" y2="350.2" stroke="#000" stroke-width="1.1"/>
<line x1="593.9" y1="359.4" x2="593.9" y2="354.7" stroke="#000" stroke-width="1.1"/>
<line x1="611.2" y1="359.4" x2="611.2" y2="350.2" stroke="#000" stroke-width="1.1"/>
<line x1="628.5" y1="359.4" x2="628.5" y2="354.7" stroke="#000" stroke-width="1.1"/>
<line x1="645.8" y1="359.4" x2="645.8" y2="350.2" stroke="#000" stroke-width="1.1"/>
<line x1="663.0" y1="359.4" x2="663.0" y2="354.7" stroke="#000" stroke-width="1.1"/>
<line x1="697.6" y1="359.4" x2="697.6" y2="354.7" stroke="#000" stroke-width="1.1"/>
<line x1="714.9" y1="359.4" x2="714.9" y2="350.2" stroke="#000" stroke-width="1.1"/>
<line x1="732.1" y1="359.4" x2="732.1" y2="354.7" stroke="#000" stroke-width="1.1"/>
<line x1="749.4" y1="359.4" x2="749.4" y2="350.2" stroke="#000" stroke-width="1.1"/>
<line x1="766.7" y1="359.4" x2="766.7" y2="354.7" stroke="#000" stroke-width="1.1"/>
<line x1="784.0" y1="359.4" x2="784.0" y2="350.2" stroke="#000" stroke-width="1.1"/>
<line x1="801.2" y1="359.4" x2="801.2" y2="354.7" stroke="#000" stroke-width="1.1"/>
<line x1="835.8" y1="359.4" x2="835.8" y2="354.7" stroke="#000" stroke-width="1.1"/>
<line x1="853.1" y1="359.4" x2="853.1" y2="350.2" stroke="#000" stroke-width="1.1"/>
<line x1="870.3" y1="359.4" x2="870.3" y2="354.7" stroke="#000" stroke-width="1.1"/>
<line x1="887.6" y1="359.4" x2="887.6" y2="350.2" stroke="#000" stroke-width="1.1"/>
<line x1="904.9" y1="359.4" x2="904.9" y2="354.7" stroke="#000" stroke-width="1.1"/>
<line x1="922.2" y1="359.4" x2="922.2" y2="350.2" stroke="#000" stroke-width="1.1"/>
<line x1="939.4" y1="359.4" x2="939.4" y2="354.7" stroke="#000" stroke-width="1.1"/>
<line x1="974.0" y1="359.4" x2="974.0" y2="354.7" stroke="#000" stroke-width="1.1"/>
<line x1="991.2" y1="359.4" x2="991.2" y2="350.2" stroke="#000" stroke-width="1.1"/>
<line x1="1008.5" y1="359.4" x2="1008.5" y2="354.7" stroke="#000" stroke-width="1.1"/>
<line x1="1025.8" y1="359.4" x2="1025.8" y2="350.2" stroke="#000" stroke-width="1.1"/>
<line x1="1043.1" y1="359.4" x2="1043.1" y2="354.7" stroke="#000" stroke-width="1.1"/>
<line x1="1060.4" y1="359.4" x2="1060.4" y2="350.2" stroke="#000" stroke-width="1.1"/>
<line x1="1077.6" y1="359.4" x2="1077.6" y2="354.7" stroke="#000" stroke-width="1.1"/>
<path d="M127.5,269.7 C128.8,270.8 132.5,274.3 135.0,276.2 C137.5,278.0 139.7,279.5 142.6,280.7 C145.4,281.9 149.2,283.1 152.1,283.2 C155.0,283.3 157.7,282.4 160.1,281.4 C162.5,280.5 164.5,279.6 166.4,277.7 C168.2,275.8 169.8,273.6 171.4,270.2 C172.9,266.7 174.0,262.2 175.6,256.9 C177.3,251.5 179.6,243.3 181.4,238.1 C183.2,232.9 184.5,229.3 186.4,225.6 C188.3,221.8 190.4,218.2 192.7,215.5 C195.0,212.8 197.7,210.7 200.2,209.3 C202.7,207.8 205.0,206.6 207.7,206.8 C210.4,206.9 213.8,208.3 216.5,210.0 C219.2,211.7 221.5,213.4 224.0,216.8 C226.5,220.2 228.8,225.8 231.5,230.6 C234.2,235.4 237.2,241.2 240.3,245.6 C243.4,250.0 247.0,253.3 250.3,256.9 C253.7,260.4 257.0,264.2 260.4,266.9 C263.7,269.6 267.0,271.5 270.4,273.2 C273.7,274.9 276.6,276.1 280.4,277.2 C284.2,278.3 289.6,279.8 292.9,279.9 C296.3,280.1 298.2,279.2 300.5,278.2 C302.7,277.2 304.8,276.0 306.7,273.9 C308.6,271.8 310.1,269.8 311.7,265.7 C313.4,261.6 315.1,254.6 316.7,249.4 C318.4,244.1 319.9,239.1 321.8,234.3 C323.6,229.5 325.7,224.3 328.0,220.5 C330.3,216.8 332.6,214.3 335.5,211.8 C338.5,209.3 342.6,206.3 345.6,205.5 C348.5,204.7 350.8,205.5 353.1,206.8 C355.4,208.0 357.1,210.1 359.3,213.0 C361.6,215.9 364.4,220.5 366.9,224.3 C369.4,228.1 371.7,232.0 374.4,235.6 C377.1,239.1 380.2,242.3 383.2,245.6 C386.1,248.9 389.1,252.5 391.9,255.6 C394.7,258.8 397.4,261.7 400.0,264.4 C402.6,267.1 405.0,269.8 407.5,271.9 C410.0,274.1 412.9,276.4 415.0,277.4 C417.1,278.5 418.4,277.7 420.1,278.2 C421.7,278.6 423.2,279.7 425.1,280.2 C426.9,280.7 429.2,281.2 431.3,281.2 C433.4,281.2 435.5,280.8 437.6,280.2 C439.7,279.6 441.8,279.2 443.9,277.4 C445.9,275.6 448.2,273.3 450.1,269.4 C452.0,265.6 453.3,259.8 455.1,254.4 C457.0,248.9 459.5,242.0 461.4,236.8 C463.3,231.7 464.3,227.2 466.4,223.6 C468.5,219.9 471.6,217.4 473.9,215.0 C476.2,212.6 478.5,210.6 480.2,209.3 C481.9,208.0 482.5,207.1 484.0,207.3 C485.4,207.4 486.9,208.2 489.0,210.0 C491.1,211.8 493.8,214.6 496.5,218.0 C499.2,221.5 502.3,226.4 505.3,230.6 C508.2,234.7 511.9,240.2 514.0,243.1 C516.1,246.0 515.1,245.6 517.8,248.1 C520.5,250.6 526.6,255.0 530.3,258.1 C534.1,261.3 537.0,264.0 540.4,266.9 C543.7,269.8 547.0,273.4 550.4,275.7 C553.7,278.0 557.1,279.6 560.4,280.7 C563.7,281.7 567.1,282.4 570.4,281.9 C573.8,281.5 577.7,279.6 580.5,278.2 C583.2,276.7 584.6,275.9 586.7,273.2 C588.8,270.5 590.9,266.1 593.0,261.9 C595.1,257.7 597.2,252.5 599.2,248.1 C601.3,243.7 603.2,238.7 605.5,235.6 C607.8,232.4 610.5,231.2 613.0,229.3 C615.5,227.4 618.1,225.8 620.6,224.3 C623.0,222.8 625.3,220.3 627.6,220.5 C629.9,220.8 632.2,223.7 634.3,225.6 C636.5,227.4 638.5,228.9 640.6,231.8 C642.7,234.7 644.4,239.1 646.9,243.1 C649.4,247.1 652.9,252.7 655.6,255.6 C658.4,258.6 659.8,257.9 663.2,260.6 C666.5,263.4 672.9,269.5 675.7,271.9 C678.5,274.3 677.8,273.3 680.0,275.2 C682.2,277.1 685.8,280.8 688.8,283.2 C691.7,285.6 694.2,287.7 697.5,289.5 C700.9,291.2 705.5,293.5 708.8,293.7 C712.2,293.9 714.9,292.5 717.6,290.7 C720.3,289.0 722.8,287.4 725.1,283.2 C727.4,279.0 729.5,271.1 731.4,265.7 C733.3,260.2 734.5,256.0 736.4,250.6 C738.3,245.2 740.6,237.8 742.7,233.1 C744.7,228.4 746.8,225.4 748.9,222.5 C751.0,219.7 753.3,217.5 755.2,216.0 C757.1,214.6 758.3,213.8 760.2,213.8 C762.1,213.8 764.4,214.8 766.5,216.0 C768.6,217.2 770.9,219.0 772.7,221.0 C774.6,223.1 775.7,224.2 777.7,228.1 C779.8,231.9 782.5,238.7 785.3,244.4 C788.0,250.0 790.7,257.1 794.0,261.9 C797.4,266.7 801.3,269.4 805.3,273.2 C809.3,276.9 813.7,281.1 817.8,284.5 C822.0,287.8 827.0,291.1 830.4,293.2 C833.7,295.3 835.2,296.0 837.9,297.0 C840.6,297.9 843.7,298.9 846.7,299.0 C849.6,299.1 852.7,298.8 855.4,297.5 C858.2,296.2 860.7,294.9 863.0,291.2 C865.3,287.6 867.1,281.0 869.2,275.7 C871.3,270.4 873.6,264.2 875.5,259.4 C877.4,254.6 878.6,250.6 880.5,246.9 C882.4,243.1 884.7,239.6 886.8,236.8 C888.9,234.0 890.9,231.7 893.0,230.1 C895.1,228.5 897.2,227.6 899.3,227.3 C901.4,227.0 903.5,227.2 905.6,228.1 C907.7,228.9 909.9,230.7 911.8,232.6 C913.7,234.5 914.8,235.1 916.8,239.3 C918.9,243.6 921.6,252.1 924.4,258.1 C927.1,264.2 931.1,272.0 933.1,275.7 C935.2,279.4 935.5,278.6 936.7,280.2 C937.9,281.7 938.1,282.2 940.4,285.2 C942.7,288.2 947.1,294.5 950.5,298.2 C953.8,301.9 957.6,305.0 960.5,307.2 C963.4,309.5 965.3,310.9 968.0,311.7 C970.7,312.6 974.1,312.1 976.8,312.2 C979.5,312.3 982.0,312.6 984.3,312.2 C986.6,311.9 988.7,311.0 990.6,310.2 C992.4,309.5 993.9,309.3 995.6,307.7 C997.2,306.1 998.9,304.5 1000.6,300.7 C1002.3,296.9 1003.7,291.5 1005.6,285.2 C1007.5,278.8 1009.8,269.5 1011.9,262.6 C1014.0,255.7 1016.0,248.4 1018.1,243.8 C1020.2,239.2 1022.3,237.3 1024.4,235.0 C1026.5,232.8 1028.6,231.9 1030.7,230.5 C1032.8,229.1 1034.8,227.3 1036.9,226.8 C1039.0,226.3 1041.1,226.8 1043.2,227.5 C1045.3,228.3 1047.2,229.2 1049.5,231.3 C1051.8,233.4 1054.5,236.7 1057.0,240.1 C1059.5,243.4 1062.0,247.6 1064.5,251.3 C1067.0,255.1 1069.5,259.3 1072.0,262.6 C1074.5,265.9 1077.2,268.8 1079.5,271.4 C1081.8,273.9 1083.4,275.6 1085.8,277.9 C1088.2,280.2 1092.7,284.2 1094.1,285.4" fill="none" stroke="#ff0000" stroke-width="3.1" stroke-linejoin="round" stroke-linecap="butt"/>
<path transform="translate(144.78,113.50)" d="M6.9,-12.6 C-2.5,-11.6 -7.9,-5.6 -7.9,0.3 C-7.9,6.4 -2.6,11.8 6.8,12.7 C2.6,8.6 0.7,4.4 0.7,0 C0.7,-4.6 2.9,-9 6.9,-12.6 Z" fill="#fcfcfc" stroke="#000" stroke-width="1.7" stroke-linejoin="round"/>
<g transform="translate(178.12,113.50)"><path transform="rotate(12)" d="M6.5,-1.2 L13.3,-1.6 L13.3,1.6 L6.5,1.2 Z" fill="#f0e31c" stroke="#f2e858" stroke-width="0.6"/><path transform="rotate(57)" d="M6.5,-1.2 L13.3,-1.6 L13.3,1.6 L6.5,1.2 Z" fill="#f0e31c" stroke="#f2e858" stroke-width="0.6"/><path transform="rotate(102)" d="M6.5,-1.2 L13.3,-1.6 L13.3,1.6 L6.5,1.2 Z" fill="#f0e31c" stroke="#f2e858" stroke-width="0.6"/><path transform="rotate(147)" d="M6.5,-1.2 L13.3,-1.6 L13.3,1.6 L6.5,1.2 Z" fill="#f0e31c" stroke="#f2e858" stroke-width="0.6"/><path transform="rotate(192)" d="M6.5,-1.2 L13.3,-1.6 L13.3,1.6 L6.5,1.2 Z" fill="#f0e31c" stroke="#f2e858" stroke-width="0.6"/><path transform="rotate(237)" d="M6.5,-1.2 L13.3,-1.6 L13.3,1.6 L6.5,1.2 Z" fill="#f0e31c" stroke="#f2e858" stroke-width="0.6"/><path transform="rotate(282)" d="M6.5,-1.2 L13.3,-1.6 L13.3,1.6 L6.5,1.2 Z" fill="#f0e31c" stroke="#f2e858" stroke-width="0.6"/><path transform="rotate(327)" d="M6.5,-1.2 L13.3,-1.6 L13.3,1.6 L6.5,1.2 Z" fill="#f0e31c" stroke="#f2e858" stroke-width="0.6"/><circle r="6.3" fill="#f1e61f" stroke="#f7a93a" stroke-width="1"/></g>
<g transform="translate(210.97,113.10)"><path transform="rotate(12)" d="M6.6,-1.2 L13.3,-1.6 L13.3,1.6 L6.6,1.2 Z" fill="#f0e31c" stroke="#f2e858" stroke-width="0.6"/><path transform="rotate(57)" d="M6.6,-1.2 L13.3,-1.6 L13.3,1.6 L6.6,1.2 Z" fill="#f0e31c" stroke="#f2e858" stroke-width="0.6"/><path transform="rotate(102)" d="M6.6,-1.2 L13.3,-1.6 L13.3,1.6 L6.6,1.2 Z" fill="#f0e31c" stroke="#f2e858" stroke-width="0.6"/><path transform="rotate(147)" d="M6.6,-1.2 L13.3,-1.6 L13.3,1.6 L6.6,1.2 Z" fill="#f0e31c" stroke="#f2e858" stroke-width="0.6"/><path transform="rotate(192)" d="M6.6,-1.2 L13.3,-1.6 L13.3,1.6 L6.6,1.2 Z" fill="#f0e31c" stroke="#f2e858" stroke-width="0.6"/><path transform="rotate(237)" d="M6.6,-1.2 L13.3,-1.6 L13.3,1.6 L6.6,1.2 Z" fill="#f0e31c" stroke="#f2e858" stroke-width="0.6"/><path transform="rotate(282)" d="M6.6,-1.2 L13.3,-1.6 L13.3,1.6 L6.6,1.2 Z" fill="#f0e31c" stroke="#f2e858" stroke-width="0.6"/><path transform="rotate(327)" d="M6.6,-1.2 L13.3,-1.6 L13.3,1.6 L6.6,1.2 Z" fill="#f0e31c" stroke="#f2e858" stroke-width="0.6"/><circle r="6.4" fill="#f1e61f" stroke="#f7a93a" stroke-width="1"/></g><g transform="translate(210.28,113.70) scale(0.968,0.991)"><path d="M3.6,11.7 C1.4,11.7 0,10 0,7.9 C0,5.7 1.7,4.2 3.7,4.2 C4.6,4.2 5.4,4.5 6.0,5.0 C6.2,2.2 8.2,0 10.6,0 C13,0 14.9,1.9 15.0,4.5 C17,4.6 18.5,6.1 18.5,8.1 C18.5,10.2 17,11.7 14.9,11.7 Z" fill="#fff" stroke="#2a5db5" stroke-width="1.74" stroke-linejoin="round"/><path d="M15.0,4.5 C13.4,4.6 12.4,5.6 12.2,6.9 M6.0,5.0 C6.6,5.6 6.9,6.3 7.0,7.0" fill="none" stroke="#2a5db5" stroke-width="1.74" stroke-linecap="round"/></g>
<path transform="translate(248.43,113.50)" d="M6.9,-12.6 C-2.5,-11.6 -7.9,-5.6 -7.9,0.3 C-7.9,6.4 -2.6,11.8 6.8,12.7 C2.6,8.6 0.7,4.4 0.7,0 C0.7,-4.6 2.9,-9 6.9,-12.6 Z" fill="#fcfcfc" stroke="#000" stroke-width="1.7" stroke-linejoin="round"/>
<path transform="translate(279.28,113.50)" d="M6.9,-12.6 C-2.5,-11.6 -7.9,-5.6 -7.9,0.3 C-7.9,6.4 -2.6,11.8 6.8,12.7 C2.6,8.6 0.7,4.4 0.7,0 C0.7,-4.6 2.9,-9 6.9,-12.6 Z" fill="#fcfcfc" stroke="#000" stroke-width="1.7" stroke-linejoin="round"/><g transform="translate(276.98,114.40) scale(0.968,0.966)"><path d="M3.6,11.7 C1.4,11.7 0,10 0,7.9 C0,5.7 1.7,4.2 3.7,4.2 C4.6,4.2 5.4,4.5 6.0,5.0 C6.2,2.2 8.2,0 10.6,0 C13,0 14.9,1.9 15.0,4.5 C17,4.6 18.5,6.1 18.5,8.1 C18.5,10.2 17,11.7 14.9,11.7 Z" fill="#d3d3d3" stroke="#2a5583" stroke-width="1.76" stroke-linejoin="round"/><path d="M15.0,4.5 C13.4,4.6 12.4,5.6 12.2,6.9 M6.0,5.0 C6.6,5.6 6.9,6.3 7.0,7.0" fill="none" stroke="#2a5583" stroke-width="1.76" stroke-linecap="round"/></g>
<g transform="translate(314.62,113.10)"><path transform="rotate(12)" d="M6.6,-1.2 L13.3,-1.6 L13.3,1.6 L6.6,1.2 Z" fill="#f0e31c" stroke="#f2e858" stroke-width="0.6"/><path transform="rotate(57)" d="M6.6,-1.2 L13.3,-1.6 L13.3,1.6 L6.6,1.2 Z" fill="#f0e31c" stroke="#f2e858" stroke-width="0.6"/><path transform="rotate(102)" d="M6.6,-1.2 L13.3,-1.6 L13.3,1.6 L6.6,1.2 Z" fill="#f0e31c" stroke="#f2e858" stroke-width="0.6"/><path transform="rotate(147)" d="M6.6,-1.2 L13.3,-1.6 L13.3,1.6 L6.6,1.2 Z" fill="#f0e31c" stroke="#f2e858" stroke-width="0.6"/><path transform="rotate(192)" d="M6.6,-1.2 L13.3,-1.6 L13.3,1.6 L6.6,1.2 Z" fill="#f0e31c" stroke="#f2e858" stroke-width="0.6"/><path transform="rotate(237)" d="M6.6,-1.2 L13.3,-1.6 L13.3,1.6 L6.6,1.2 Z" fill="#f0e31c" stroke="#f2e858" stroke-width="0.6"/><path transform="rotate(282)" d="M6.6,-1.2 L13.3,-1.6 L13.3,1.6 L6.6,1.2 Z" fill="#f0e31c" stroke="#f2e858" stroke-width="0.6"/><path transform="rotate(327)" d="M6.6,-1.2 L13.3,-1.6 L13.3,1.6 L6.6,1.2 Z" fill="#f0e31c" stroke="#f2e858" stroke-width="0.6"/><circle r="6.4" fill="#f1e61f" stroke="#f7a93a" stroke-width="1"/></g><g transform="translate(313.92,113.70) scale(0.968,0.991)"><path d="M3.6,11.7 C1.4,11.7 0,10 0,7.9 C0,5.7 1.7,4.2 3.7,4.2 C4.6,4.2 5.4,4.5 6.0,5.0 C6.2,2.2 8.2,0 10.6,0 C13,0 14.9,1.9 15.0,4.5 C17,4.6 18.5,6.1 18.5,8.1 C18.5,10.2 17,11.7 14.9,11.7 Z" fill="#fff" stroke="#2a5db5" stroke-width="1.74" stroke-linejoin="round"/><path d="M15.0,4.5 C13.4,4.6 12.4,5.6 12.2,6.9 M6.0,5.0 C6.6,5.6 6.9,6.3 7.0,7.0" fill="none" stroke="#2a5db5" stroke-width="1.74" stroke-linecap="round"/></g>
<g transform="translate(349.18,113.10)"><path transform="rotate(12)" d="M6.6,-1.2 L13.3,-1.6 L13.3,1.6 L6.6,1.2 Z" fill="#f0e31c" stroke="#f2e858" stroke-width="0.6"/><path transform="rotate(57)" d="M6.6,-1.2 L13.3,-1.6 L13.3,1.6 L6.6,1.2 Z" fill="#f0e31c" stroke="#f2e858" stroke-width="0.6"/><path transform="rotate(102)" d="M6.6,-1.2 L13.3,-1.6 L13.3,1.6 L6.6,1.2 Z" fill="#f0e31c" stroke="#f2e858" stroke-width="0.6"/><path transform="rotate(147)" d="M6.6,-1.2 L13.3,-1.6 L13.3,1.6 L6.6,1.2 Z" fill="#f0e31c" stroke="#f2e858" stroke-width="0.6"/><path transform="rotate(192)" d="M6.6,-1.2 L13.3,-1.6 L13.3,1.6 L6.6,1.2 Z" fill="#f0e31c" stroke="#f2e858" stroke-width="0.6"/><path transform="rotate(237)" d="M6.6,-1.2 L13.3,-1.6 L13.3,1.6 L6.6,1.2 Z" fill="#f0e31c" stroke="#f2e858" stroke-width="0.6"/><path transform="rotate(282)" d="M6.6,-1.2 L13.3,-1.6 L13.3,1.6 L6.6,1.2 Z" fill="#f0e31c" stroke="#f2e858" stroke-width="0.6"/><path transform="rotate(327)" d="M6.6,-1.2 L13.3,-1.6 L13.3,1.6 L6.6,1.2 Z" fill="#f0e31c" stroke="#f2e858" stroke-width="0.6"/><circle r="6.4" fill="#f1e61f" stroke="#f7a93a" stroke-width="1"/></g><g transform="translate(348.48,113.70) scale(0.968,0.991)"><path d="M3.6,11.7 C1.4,11.7 0,10 0,7.9 C0,5.7 1.7,4.2 3.7,4.2 C4.6,4.2 5.4,4.5 6.0,5.0 C6.2,2.2 8.2,0 10.6,0 C13,0 14.9,1.9 15.0,4.5 C17,4.6 18.5,6.1 18.5,8.1 C18.5,10.2 17,11.7 14.9,11.7 Z" fill="#fff" stroke="#2a5db5" stroke-width="1.74" stroke-linejoin="round"/><path d="M15.0,4.5 C13.4,4.6 12.4,5.6 12.2,6.9 M6.0,5.0 C6.6,5.6 6.9,6.3 7.0,7.0" fill="none" stroke="#2a5db5" stroke-width="1.74" stroke-linecap="round"/></g>
<path transform="translate(386.62,113.50)" d="M6.9,-12.6 C-2.5,-11.6 -7.9,-5.6 -7.9,0.3 C-7.9,6.4 -2.6,11.8 6.8,12.7 C2.6,8.6 0.7,4.4 0.7,0 C0.7,-4.6 2.9,-9 6.9,-12.6 Z" fill="#fcfcfc" stroke="#000" stroke-width="1.7" stroke-linejoin="round"/>
<path transform="translate(421.18,113.50)" d="M6.9,-12.6 C-2.5,-11.6 -7.9,-5.6 -7.9,0.3 C-7.9,6.4 -2.6,11.8 6.8,12.7 C2.6,8.6 0.7,4.4 0.7,0 C0.7,-4.6 2.9,-9 6.9,-12.6 Z" fill="#fcfcfc" stroke="#000" stroke-width="1.7" stroke-linejoin="round"/>
<g transform="translate(454.53,113.50)"><path transform="rotate(12)" d="M6.5,-1.2 L13.3,-1.6 L13.3,1.6 L6.5,1.2 Z" fill="#f0e31c" stroke="#f2e858" stroke-width="0.6"/><path transform="rotate(57)" d="M6.5,-1.2 L13.3,-1.6 L13.3,1.6 L6.5,1.2 Z" fill="#f0e31c" stroke="#f2e858" stroke-width="0.6"/><path transform="rotate(102)" d="M6.5,-1.2 L13.3,-1.6 L13.3,1.6 L6.5,1.2 Z" fill="#f0e31c" stroke="#f2e858" stroke-width="0.6"/><path transform="rotate(147)" d="M6.5,-1.2 L13.3,-1.6 L13.3,1.6 L6.5,1.2 Z" fill="#f0e31c" stroke="#f2e858" stroke-width="0.6"/><path transform="rotate(192)" d="M6.5,-1.2 L13.3,-1.6 L13.3,1.6 L6.5,1.2 Z" fill="#f0e31c" stroke="#f2e858" stroke-width="0.6"/><path transform="rotate(237)" d="M6.5,-1.2 L13.3,-1.6 L13.3,1.6 L6.5,1.2 Z" fill="#f0e31c" stroke="#f2e858" stroke-width="0.6"/><path transform="rotate(282)" d="M6.5,-1.2 L13.3,-1.6 L13.3,1.6 L6.5,1.2 Z" fill="#f0e31c" stroke="#f2e858" stroke-width="0.6"/><path transform="rotate(327)" d="M6.5,-1.2 L13.3,-1.6 L13.3,1.6 L6.5,1.2 Z" fill="#f0e31c" stroke="#f2e858" stroke-width="0.6"/><circle r="6.3" fill="#f1e61f" stroke="#f7a93a" stroke-width="1"/></g>
<g transform="translate(489.08,113.50)"><path transform="rotate(12)" d="M6.5,-1.2 L13.3,-1.6 L13.3,1.6 L6.5,1.2 Z" fill="#f0e31c" stroke="#f2e858" stroke-width="0.6"/><path transform="rotate(57)" d="M6.5,-1.2 L13.3,-1.6 L13.3,1.6 L6.5,1.2 Z" fill="#f0e31c" stroke="#f2e858" stroke-width="0.6"/><path transform="rotate(102)" d="M6.5,-1.2 L13.3,-1.6 L13.3,1.6 L6.5,1.2 Z" fill="#f0e31c" stroke="#f2e858" stroke-width="0.6"/><path transform="rotate(147)" d="M6.5,-1.2 L13.3,-1.6 L13.3,1.6 L6.5,1.2 Z" fill="#f0e31c" stroke="#f2e858" stroke-width="0.6"/><path transform="rotate(192)" d="M6.5,-1.2 L13.3,-1.6 L13.3,1.6 L6.5,1.2 Z" fill="#f0e31c" stroke="#f2e858" stroke-width="0.6"/><path transform="rotate(237)" d="M6.5,-1.2 L13.3,-1.6 L13.3,1.6 L6.5,1.2 Z" fill="#f0e31c" stroke="#f2e858" stroke-width="0.6"/><path transform="rotate(282)" d="M6.5,-1.2 L13.3,-1.6 L13.3,1.6 L6.5,1.2 Z" fill="#f0e31c" stroke="#f2e858" stroke-width="0.6"/><path transform="rotate(327)" d="M6.5,-1.2 L13.3,-1.6 L13.3,1.6 L6.5,1.2 Z" fill="#f0e31c" stroke="#f2e858" stroke-width="0.6"/><circle r="6.3" fill="#f1e61f" stroke="#f7a93a" stroke-width="1"/></g>
<path transform="translate(517.62,113.50)" d="M6.9,-12.6 C-2.5,-11.6 -7.9,-5.6 -7.9,0.3 C-7.9,6.4 -2.6,11.8 6.8,12.7 C2.6,8.6 0.7,4.4 0.7,0 C0.7,-4.6 2.9,-9 6.9,-12.6 Z" fill="#fcfcfc" stroke="#000" stroke-width="1.2" stroke-linejoin="round"/><g transform="translate(515.12,110.20) scale(1.314,1.427)"><path d="M3.6,11.7 C1.4,11.7 0,10 0,7.9 C0,5.7 1.7,4.2 3.7,4.2 C4.6,4.2 5.4,4.5 6.0,5.0 C6.2,2.2 8.2,0 10.6,0 C13,0 14.9,1.9 15.0,4.5 C17,4.6 18.5,6.1 18.5,8.1 C18.5,10.2 17,11.7 14.9,11.7 Z" fill="#d3d3d3" stroke="#2a5583" stroke-width="1.24" stroke-linejoin="round"/><path d="M15.0,4.5 C13.4,4.6 12.4,5.6 12.2,6.9 M6.0,5.0 C6.6,5.6 6.9,6.3 7.0,7.0" fill="none" stroke="#2a5583" stroke-width="1.24" stroke-linecap="round"/></g>
<g transform="translate(541.77,104.10) scale(1.881,1.812)"><path d="M3.6,11.7 C1.4,11.7 0,10 0,7.9 C0,5.7 1.7,4.2 3.7,4.2 C4.6,4.2 5.4,4.5 6.0,5.0 C6.2,2.2 8.2,0 10.6,0 C13,0 14.9,1.9 15.0,4.5 C17,4.6 18.5,6.1 18.5,8.1 C18.5,10.2 17,11.7 14.9,11.7 Z" fill="#d3d3d3" stroke="#2a5583" stroke-width="0.92" stroke-linejoin="round"/></g><g transform="translate(550.38,111.00) scale(1.259,1.282)"><path d="M3.6,11.7 C1.4,11.7 0,10 0,7.9 C0,5.7 1.7,4.2 3.7,4.2 C4.6,4.2 5.4,4.5 6.0,5.0 C6.2,2.2 8.2,0 10.6,0 C13,0 14.9,1.9 15.0,4.5 C17,4.6 18.5,6.1 18.5,8.1 C18.5,10.2 17,11.7 14.9,11.7 Z" fill="#fff" stroke="#2a5583" stroke-width="1.34" stroke-linejoin="round"/><path d="M15.0,4.5 C13.4,4.6 12.4,5.6 12.2,6.9 M6.0,5.0 C6.6,5.6 6.9,6.3 7.0,7.0" fill="none" stroke="#2a5583" stroke-width="1.34" stroke-linecap="round"/></g>
<g transform="translate(597.52,112.70)"><path transform="rotate(12)" d="M6.3,-1.2 L13.3,-1.6 L13.3,1.6 L6.3,1.2 Z" fill="#f0e31c" stroke="#f2e858" stroke-width="0.6"/><path transform="rotate(57)" d="M6.3,-1.2 L13.3,-1.6 L13.3,1.6 L6.3,1.2 Z" fill="#f0e31c" stroke="#f2e858" stroke-width="0.6"/><path transform="rotate(102)" d="M6.3,-1.2 L13.3,-1.6 L13.3,1.6 L6.3,1.2 Z" fill="#f0e31c" stroke="#f2e858" stroke-width="0.6"/><path transform="rotate(147)" d="M6.3,-1.2 L13.3,-1.6 L13.3,1.6 L6.3,1.2 Z" fill="#f0e31c" stroke="#f2e858" stroke-width="0.6"/><path transform="rotate(192)" d="M6.3,-1.2 L13.3,-1.6 L13.3,1.6 L6.3,1.2 Z" fill="#f0e31c" stroke="#f2e858" stroke-width="0.6"/><path transform="rotate(237)" d="M6.3,-1.2 L13.3,-1.6 L13.3,1.6 L6.3,1.2 Z" fill="#f0e31c" stroke="#f2e858" stroke-width="0.6"/><path transform="rotate(282)" d="M6.3,-1.2 L13.3,-1.6 L13.3,1.6 L6.3,1.2 Z" fill="#f0e31c" stroke="#f2e858" stroke-width="0.6"/><path transform="rotate(327)" d="M6.3,-1.2 L13.3,-1.6 L13.3,1.6 L6.3,1.2 Z" fill="#f0e31c" stroke="#f2e858" stroke-width="0.6"/><circle r="6.1" fill="#f1e61f" stroke="#f7a93a" stroke-width="1"/></g><g transform="translate(576.92,112.70) scale(1.205,1.248)"><path d="M3.6,11.7 C1.4,11.7 0,10 0,7.9 C0,5.7 1.7,4.2 3.7,4.2 C4.6,4.2 5.4,4.5 6.0,5.0 C6.2,2.2 8.2,0 10.6,0 C13,0 14.9,1.9 15.0,4.5 C17,4.6 18.5,6.1 18.5,8.1 C18.5,10.2 17,11.7 14.9,11.7 Z" fill="#d3d3d3" stroke="#2a5db5" stroke-width="1.39" stroke-linejoin="round"/><path d="M15.0,4.5 C13.4,4.6 12.4,5.6 12.2,6.9 M6.0,5.0 C6.6,5.6 6.9,6.3 7.0,7.0" fill="none" stroke="#2a5db5" stroke-width="1.39" stroke-linecap="round"/></g>
<g transform="translate(632.08,112.70)"><path transform="rotate(12)" d="M6.3,-1.2 L13.3,-1.6 L13.3,1.6 L6.3,1.2 Z" fill="#f0e31c" stroke="#f2e858" stroke-width="0.6"/><path transform="rotate(57)" d="M6.3,-1.2 L13.3,-1.6 L13.3,1.6 L6.3,1.2 Z" fill="#f0e31c" stroke="#f2e858" stroke-width="0.6"/><path transform="rotate(102)" d="M6.3,-1.2 L13.3,-1.6 L13.3,1.6 L6.3,1.2 Z" fill="#f0e31c" stroke="#f2e858" stroke-width="0.6"/><path transform="rotate(147)" d="M6.3,-1.2 L13.3,-1.6 L13.3,1.6 L6.3,1.2 Z" fill="#f0e31c" stroke="#f2e858" stroke-width="0.6"/><path transform="rotate(192)" d="M6.3,-1.2 L13.3,-1.6 L13.3,1.6 L6.3,1.2 Z" fill="#f0e31c" stroke="#f2e858" stroke-width="0.6"/><path transform="rotate(237)" d="M6.3,-1.2 L13.3,-1.6 L13.3,1.6 L6.3,1.2 Z" fill="#f0e31c" stroke="#f2e858" stroke-width="0.6"/><path transform="rotate(282)" d="M6.3,-1.2 L13.3,-1.6 L13.3,1.6 L6.3,1.2 Z" fill="#f0e31c" stroke="#f2e858" stroke-width="0.6"/><path transform="rotate(327)" d="M6.3,-1.2 L13.3,-1.6 L13.3,1.6 L6.3,1.2 Z" fill="#f0e31c" stroke="#f2e858" stroke-width="0.6"/><circle r="6.1" fill="#f1e61f" stroke="#f7a93a" stroke-width="1"/></g><g transform="translate(611.48,112.70) scale(1.205,1.248)"><path d="M3.6,11.7 C1.4,11.7 0,10 0,7.9 C0,5.7 1.7,4.2 3.7,4.2 C4.6,4.2 5.4,4.5 6.0,5.0 C6.2,2.2 8.2,0 10.6,0 C13,0 14.9,1.9 15.0,4.5 C17,4.6 18.5,6.1 18.5,8.1 C18.5,10.2 17,11.7 14.9,11.7 Z" fill="#d3d3d3" stroke="#2a5db5" stroke-width="1.39" stroke-linejoin="round"/><path d="M15.0,4.5 C13.4,4.6 12.4,5.6 12.2,6.9 M6.0,5.0 C6.6,5.6 6.9,6.3 7.0,7.0" fill="none" stroke="#2a5db5" stroke-width="1.39" stroke-linecap="round"/></g>
<path transform="translate(655.83,113.50)" d="M6.9,-12.6 C-2.5,-11.6 -7.9,-5.6 -7.9,0.3 C-7.9,6.4 -2.6,11.8 6.8,12.7 C2.6,8.6 0.7,4.4 0.7,0 C0.7,-4.6 2.9,-9 6.9,-12.6 Z" fill="#fcfcfc" stroke="#000" stroke-width="1.2" stroke-linejoin="round"/><g transform="translate(653.33,110.20) scale(1.314,1.427)"><path d="M3.6,11.7 C1.4,11.7 0,10 0,7.9 C0,5.7 1.7,4.2 3.7,4.2 C4.6,4.2 5.4,4.5 6.0,5.0 C6.2,2.2 8.2,0 10.6,0 C13,0 14.9,1.9 15.0,4.5 C17,4.6 18.5,6.1 18.5,8.1 C18.5,10.2 17,11.7 14.9,11.7 Z" fill="#d3d3d3" stroke="#2a5583" stroke-width="1.24" stroke-linejoin="round"/><path d="M15.0,4.5 C13.4,4.6 12.4,5.6 12.2,6.9 M6.0,5.0 C6.6,5.6 6.9,6.3 7.0,7.0" fill="none" stroke="#2a5583" stroke-width="1.24" stroke-linecap="round"/></g>
<path transform="translate(690.38,113.50)" d="M6.9,-12.6 C-2.5,-11.6 -7.9,-5.6 -7.9,0.3 C-7.9,6.4 -2.6,11.8 6.8,12.7 C2.6,8.6 0.7,4.4 0.7,0 C0.7,-4.6 2.9,-9 6.9,-12.6 Z" fill="#fcfcfc" stroke="#000" stroke-width="1.2" stroke-linejoin="round"/><g transform="translate(687.88,110.20) scale(1.314,1.427)"><path d="M3.6,11.7 C1.4,11.7 0,10 0,7.9 C0,5.7 1.7,4.2 3.7,4.2 C4.6,4.2 5.4,4.5 6.0,5.0 C6.2,2.2 8.2,0 10.6,0 C13,0 14.9,1.9 15.0,4.5 C17,4.6 18.5,6.1 18.5,8.1 C18.5,10.2 17,11.7 14.9,11.7 Z" fill="#d3d3d3" stroke="#2a5583" stroke-width="1.24" stroke-linejoin="round"/><path d="M15.0,4.5 C13.4,4.6 12.4,5.6 12.2,6.9 M6.0,5.0 C6.6,5.6 6.9,6.3 7.0,7.0" fill="none" stroke="#2a5583" stroke-width="1.24" stroke-linecap="round"/></g>
<g transform="translate(735.73,112.70)"><path transform="rotate(12)" d="M6.3,-1.2 L13.3,-1.6 L13.3,1.6 L6.3,1.2 Z" fill="#f0e31c" stroke="#f2e858" stroke-width="0.6"/><path transform="rotate(57)" d="M6.3,-1.2 L13.3,-1.6 L13.3,1.6 L6.3,1.2 Z" fill="#f0e31c" stroke="#f2e858" stroke-width="0.6"/><path transform="rotate(102)" d="M6.3,-1.2 L13.3,-1.6 L13.3,1.6 L6.3,1.2 Z" fill="#f0e31c" stroke="#f2e858" stroke-width="0.6"/><path transform="rotate(147)" d="M6.3,-1.2 L13.3,-1.6 L13.3,1.6 L6.3,1.2 Z" fill="#f0e31c" stroke="#f2e858" stroke-width="0.6"/><path transform="rotate(192)" d="M6.3,-1.2 L13.3,-1.6 L13.3,1.6 L6.3,1.2 Z" fill="#f0e31c" stroke="#f2e858" stroke-width="0.6"/><path transform="rotate(237)" d="M6.3,-1.2 L13.3,-1.6 L13.3,1.6 L6.3,1.2 Z" fill="#f0e31c" stroke="#f2e858" stroke-width="0.6"/><path transform="rotate(282)" d="M6.3,-1.2 L13.3,-1.6 L13.3,1.6 L6.3,1.2 Z" fill="#f0e31c" stroke="#f2e858" stroke-width="0.6"/><path transform="rotate(327)" d="M6.3,-1.2 L13.3,-1.6 L13.3,1.6 L6.3,1.2 Z" fill="#f0e31c" stroke="#f2e858" stroke-width="0.6"/><circle r="6.1" fill="#f1e61f" stroke="#f7a93a" stroke-width="1"/></g><g transform="translate(715.12,112.70) scale(1.205,1.248)"><path d="M3.6,11.7 C1.4,11.7 0,10 0,7.9 C0,5.7 1.7,4.2 3.7,4.2 C4.6,4.2 5.4,4.5 6.0,5.0 C6.2,2.2 8.2,0 10.6,0 C13,0 14.9,1.9 15.0,4.5 C17,4.6 18.5,6.1 18.5,8.1 C18.5,10.2 17,11.7 14.9,11.7 Z" fill="#d3d3d3" stroke="#2a5db5" stroke-width="1.39" stroke-linejoin="round"/><path d="M15.0,4.5 C13.4,4.6 12.4,5.6 12.2,6.9 M6.0,5.0 C6.6,5.6 6.9,6.3 7.0,7.0" fill="none" stroke="#2a5db5" stroke-width="1.39" stroke-linecap="round"/></g>
<g transform="translate(770.28,112.70)"><path transform="rotate(12)" d="M6.3,-1.2 L13.3,-1.6 L13.3,1.6 L6.3,1.2 Z" fill="#f0e31c" stroke="#f2e858" stroke-width="0.6"/><path transform="rotate(57)" d="M6.3,-1.2 L13.3,-1.6 L13.3,1.6 L6.3,1.2 Z" fill="#f0e31c" stroke="#f2e858" stroke-width="0.6"/><path transform="rotate(102)" d="M6.3,-1.2 L13.3,-1.6 L13.3,1.6 L6.3,1.2 Z" fill="#f0e31c" stroke="#f2e858" stroke-width="0.6"/><path transform="rotate(147)" d="M6.3,-1.2 L13.3,-1.6 L13.3,1.6 L6.3,1.2 Z" fill="#f0e31c" stroke="#f2e858" stroke-width="0.6"/><path transform="rotate(192)" d="M6.3,-1.2 L13.3,-1.6 L13.3,1.6 L6.3,1.2 Z" fill="#f0e31c" stroke="#f2e858" stroke-width="0.6"/><path transform="rotate(237)" d="M6.3,-1.2 L13.3,-1.6 L13.3,1.6 L6.3,1.2 Z" fill="#f0e31c" stroke="#f2e858" stroke-width="0.6"/><path transform="rotate(282)" d="M6.3,-1.2 L13.3,-1.6 L13.3,1.6 L6.3,1.2 Z" fill="#f0e31c" stroke="#f2e858" stroke-width="0.6"/><path transform="rotate(327)" d="M6.3,-1.2 L13.3,-1.6 L13.3,1.6 L6.3,1.2 Z" fill="#f0e31c" stroke="#f2e858" stroke-width="0.6"/><circle r="6.1" fill="#f1e61f" stroke="#f7a93a" stroke-width="1"/></g><g transform="translate(749.68,112.70) scale(1.205,1.248)"><path d="M3.6,11.7 C1.4,11.7 0,10 0,7.9 C0,5.7 1.7,4.2 3.7,4.2 C4.6,4.2 5.4,4.5 6.0,5.0 C6.2,2.2 8.2,0 10.6,0 C13,0 14.9,1.9 15.0,4.5 C17,4.6 18.5,6.1 18.5,8.1 C18.5,10.2 17,11.7 14.9,11.7 Z" fill="#d3d3d3" stroke="#2a5db5" stroke-width="1.39" stroke-linejoin="round"/><path d="M15.0,4.5 C13.4,4.6 12.4,5.6 12.2,6.9 M6.0,5.0 C6.6,5.6 6.9,6.3 7.0,7.0" fill="none" stroke="#2a5db5" stroke-width="1.39" stroke-linecap="round"/></g>
<path transform="translate(797.52,113.50)" d="M6.9,-12.6 C-2.5,-11.6 -7.9,-5.6 -7.9,0.3 C-7.9,6.4 -2.6,11.8 6.8,12.7 C2.6,8.6 0.7,4.4 0.7,0 C0.7,-4.6 2.9,-9 6.9,-12.6 Z" fill="#fcfcfc" stroke="#000" stroke-width="1.3" stroke-linejoin="round"/><g transform="translate(795.23,114.40) scale(0.968,0.966)"><path d="M3.6,11.7 C1.4,11.7 0,10 0,7.9 C0,5.7 1.7,4.2 3.7,4.2 C4.6,4.2 5.4,4.5 6.0,5.0 C6.2,2.2 8.2,0 10.6,0 C13,0 14.9,1.9 15.0,4.5 C17,4.6 18.5,6.1 18.5,8.1 C18.5,10.2 17,11.7 14.9,11.7 Z" fill="#d3d3d3" stroke="#2a5583" stroke-width="1.76" stroke-linejoin="round"/><path d="M15.0,4.5 C13.4,4.6 12.4,5.6 12.2,6.9 M6.0,5.0 C6.6,5.6 6.9,6.3 7.0,7.0" fill="none" stroke="#2a5583" stroke-width="1.76" stroke-linecap="round"/></g>
<path transform="translate(835.78,113.50)" d="M6.9,-12.6 C-2.5,-11.6 -7.9,-5.6 -7.9,0.3 C-7.9,6.4 -2.6,11.8 6.8,12.7 C2.6,8.6 0.7,4.4 0.7,0 C0.7,-4.6 2.9,-9 6.9,-12.6 Z" fill="#fcfcfc" stroke="#000" stroke-width="1.7" stroke-linejoin="round"/>
<g transform="translate(869.12,113.50)"><path transform="rotate(12)" d="M6.5,-1.2 L13.3,-1.6 L13.3,1.6 L6.5,1.2 Z" fill="#f0e31c" stroke="#f2e858" stroke-width="0.6"/><path transform="rotate(57)" d="M6.5,-1.2 L13.3,-1.6 L13.3,1.6 L6.5,1.2 Z" fill="#f0e31c" stroke="#f2e858" stroke-width="0.6"/><path transform="rotate(102)" d="M6.5,-1.2 L13.3,-1.6 L13.3,1.6 L6.5,1.2 Z" fill="#f0e31c" stroke="#f2e858" stroke-width="0.6"/><path transform="rotate(147)" d="M6.5,-1.2 L13.3,-1.6 L13.3,1.6 L6.5,1.2 Z" fill="#f0e31c" stroke="#f2e858" stroke-width="0.6"/><path transform="rotate(192)" d="M6.5,-1.2 L13.3,-1.6 L13.3,1.6 L6.5,1.2 Z" fill="#f0e31c" stroke="#f2e858" stroke-width="0.6"/><path transform="rotate(237)" d="M6.5,-1.2 L13.3,-1.6 L13.3,1.6 L6.5,1.2 Z" fill="#f0e31c" stroke="#f2e858" stroke-width="0.6"/><path transform="rotate(282)" d="M6.5,-1.2 L13.3,-1.6 L13.3,1.6 L6.5,1.2 Z" fill="#f0e31c" stroke="#f2e858" stroke-width="0.6"/><path transform="rotate(327)" d="M6.5,-1.2 L13.3,-1.6 L13.3,1.6 L6.5,1.2 Z" fill="#f0e31c" stroke="#f2e858" stroke-width="0.6"/><circle r="6.3" fill="#f1e61f" stroke="#f7a93a" stroke-width="1"/></g>
<g transform="translate(903.67,113.50)"><path transform="rotate(12)" d="M6.5,-1.2 L13.3,-1.6 L13.3,1.6 L6.5,1.2 Z" fill="#f0e31c" stroke="#f2e858" stroke-width="0.6"/><path transform="rotate(57)" d="M6.5,-1.2 L13.3,-1.6 L13.3,1.6 L6.5,1.2 Z" fill="#f0e31c" stroke="#f2e858" stroke-width="0.6"/><path transform="rotate(102)" d="M6.5,-1.2 L13.3,-1.6 L13.3,1.6 L6.5,1.2 Z" fill="#f0e31c" stroke="#f2e858" stroke-width="0.6"/><path transform="rotate(147)" d="M6.5,-1.2 L13.3,-1.6 L13.3,1.6 L6.5,1.2 Z" fill="#f0e31c" stroke="#f2e858" stroke-width="0.6"/><path transform="rotate(192)" d="M6.5,-1.2 L13.3,-1.6 L13.3,1.6 L6.5,1.2 Z" fill="#f0e31c" stroke="#f2e858" stroke-width="0.6"/><path transform="rotate(237)" d="M6.5,-1.2 L13.3,-1.6 L13.3,1.6 L6.5,1.2 Z" fill="#f0e31c" stroke="#f2e858" stroke-width="0.6"/><path transform="rotate(282)" d="M6.5,-1.2 L13.3,-1.6 L13.3,1.6 L6.5,1.2 Z" fill="#f0e31c" stroke="#f2e858" stroke-width="0.6"/><path transform="rotate(327)" d="M6.5,-1.2 L13.3,-1.6 L13.3,1.6 L6.5,1.2 Z" fill="#f0e31c" stroke="#f2e858" stroke-width="0.6"/><circle r="6.3" fill="#f1e61f" stroke="#f7a93a" stroke-width="1"/></g>
<path transform="translate(939.43,113.50)" d="M6.9,-12.6 C-2.5,-11.6 -7.9,-5.6 -7.9,0.3 C-7.9,6.4 -2.6,11.8 6.8,12.7 C2.6,8.6 0.7,4.4 0.7,0 C0.7,-4.6 2.9,-9 6.9,-12.6 Z" fill="#fcfcfc" stroke="#000" stroke-width="1.7" stroke-linejoin="round"/>
<path transform="translate(973.98,113.50)" d="M6.9,-12.6 C-2.5,-11.6 -7.9,-5.6 -7.9,0.3 C-7.9,6.4 -2.6,11.8 6.8,12.7 C2.6,8.6 0.7,4.4 0.7,0 C0.7,-4.6 2.9,-9 6.9,-12.6 Z" fill="#fcfcfc" stroke="#000" stroke-width="1.7" stroke-linejoin="round"/>
<g transform="translate(1007.33,113.50)"><path transform="rotate(12)" d="M6.5,-1.2 L13.3,-1.6 L13.3,1.6 L6.5,1.2 Z" fill="#f0e31c" stroke="#f2e858" stroke-width="0.6"/><path transform="rotate(57)" d="M6.5,-1.2 L13.3,-1.6 L13.3,1.6 L6.5,1.2 Z" fill="#f0e31c" stroke="#f2e858" stroke-width="0.6"/><path transform="rotate(102)" d="M6.5,-1.2 L13.3,-1.6 L13.3,1.6 L6.5,1.2 Z" fill="#f0e31c" stroke="#f2e858" stroke-width="0.6"/><path transform="rotate(147)" d="M6.5,-1.2 L13.3,-1.6 L13.3,1.6 L6.5,1.2 Z" fill="#f0e31c" stroke="#f2e858" stroke-width="0.6"/><path transform="rotate(192)" d="M6.5,-1.2 L13.3,-1.6 L13.3,1.6 L6.5,1.2 Z" fill="#f0e31c" stroke="#f2e858" stroke-width="0.6"/><path transform="rotate(237)" d="M6.5,-1.2 L13.3,-1.6 L13.3,1.6 L6.5,1.2 Z" fill="#f0e31c" stroke="#f2e858" stroke-width="0.6"/><path transform="rotate(282)" d="M6.5,-1.2 L13.3,-1.6 L13.3,1.6 L6.5,1.2 Z" fill="#f0e31c" stroke="#f2e858" stroke-width="0.6"/><path transform="rotate(327)" d="M6.5,-1.2 L13.3,-1.6 L13.3,1.6 L6.5,1.2 Z" fill="#f0e31c" stroke="#f2e858" stroke-width="0.6"/><circle r="6.3" fill="#f1e61f" stroke="#f7a93a" stroke-width="1"/></g>
<g transform="translate(1041.88,113.50)"><path transform="rotate(12)" d="M6.5,-1.2 L13.3,-1.6 L13.3,1.6 L6.5,1.2 Z" fill="#f0e31c" stroke="#f2e858" stroke-width="0.6"/><path transform="rotate(57)" d="M6.5,-1.2 L13.3,-1.6 L13.3,1.6 L6.5,1.2 Z" fill="#f0e31c" stroke="#f2e858" stroke-width="0.6"/><path transform="rotate(102)" d="M6.5,-1.2 L13.3,-1.6 L13.3,1.6 L6.5,1.2 Z" fill="#f0e31c" stroke="#f2e858" stroke-width="0.6"/><path transform="rotate(147)" d="M6.5,-1.2 L13.3,-1.6 L13.3,1.6 L6.5,1.2 Z" fill="#f0e31c" stroke="#f2e858" stroke-width="0.6"/><path transform="rotate(192)" d="M6.5,-1.2 L13.3,-1.6 L13.3,1.6 L6.5,1.2 Z" fill="#f0e31c" stroke="#f2e858" stroke-width="0.6"/><path transform="rotate(237)" d="M6.5,-1.2 L13.3,-1.6 L13.3,1.6 L6.5,1.2 Z" fill="#f0e31c" stroke="#f2e858" stroke-width="0.6"/><path transform="rotate(282)" d="M6.5,-1.2 L13.3,-1.6 L13.3,1.6 L6.5,1.2 Z" fill="#f0e31c" stroke="#f2e858" stroke-width="0.6"/><path transform="rotate(327)" d="M6.5,-1.2 L13.3,-1.6 L13.3,1.6 L6.5,1.2 Z" fill="#f0e31c" stroke="#f2e858" stroke-width="0.6"/><circle r="6.3" fill="#f1e61f" stroke="#f7a93a" stroke-width="1"/></g>
<path transform="translate(1077.62,113.50)" d="M6.9,-12.6 C-2.5,-11.6 -7.9,-5.6 -7.9,0.3 C-7.9,6.4 -2.6,11.8 6.8,12.7 C2.6,8.6 0.7,4.4 0.7,0 C0.7,-4.6 2.9,-9 6.9,-12.6 Z" fill="#fcfcfc" stroke="#000" stroke-width="1.7" stroke-linejoin="round"/>
<line x1="173" y1="97.5" x2="173" y2="359.4" stroke="#111" stroke-width="1.6" stroke-dasharray="5.6 2.1" stroke-dashoffset="3"/>
<path d="M117.4,161.5 L135.8,144.7 M132.4,147.8 l4.5,2.6" fill="none" stroke="#000" stroke-width="2" stroke-linecap="butt"/>
<path d="M138.3,164.3 L149.5,141.9 M147.4,146.1 l5.2,0.8" fill="none" stroke="#000" stroke-width="2" stroke-linecap="butt"/>
<path d="M154.7,163.8 L167.6,142.4 M165.2,146.4 l5.1,1.2" fill="none" stroke="#000" stroke-width="2" stroke-linecap="butt"/>
<path d="M171.5,163.5 L185.3,142.7 M182.7,146.6 l5.0,1.5" fill="none" stroke="#000" stroke-width="2" stroke-linecap="butt"/>
<path d="M183.3,154.9 L208.1,151.3 M203.4,152.0 l2.3,4.7" fill="none" stroke="#000" stroke-width="2" stroke-linecap="butt"/>
<path d="M204.5,162.3 L221.5,143.9 M218.3,147.4 l4.7,2.3" fill="none" stroke="#000" stroke-width="2" stroke-linecap="butt"/>
<path d="M240.3,160.5 L220.2,145.7 M224.0,148.5 l1.7,-4.9" fill="none" stroke="#000" stroke-width="2" stroke-linecap="butt"/>
<path d="M247.1,165.6 L248.0,140.6 M247.8,145.3 l5.1,-1.4" fill="none" stroke="#000" stroke-width="2" stroke-linecap="butt"/>
<path d="M255.0,160.9 L274.6,145.3 M270.9,148.2 l4.3,2.9" fill="none" stroke="#000" stroke-width="2" stroke-linecap="butt"/>
<path d="M273.6,162.3 L290.6,143.9 M287.4,147.4 l4.7,2.3" fill="none" stroke="#000" stroke-width="2" stroke-linecap="butt"/>
<path d="M291.5,162.8 L307.2,143.4 M304.3,147.0 l4.9,1.9" fill="none" stroke="#000" stroke-width="2" stroke-linecap="butt"/>
<path d="M307.1,161.2 L326.2,145.0 l8.8,5.6" fill="none" stroke="#000" stroke-width="2" stroke-linecap="butt"/>
<path d="M322.6,158.4 L345.2,147.8 l2.6,3.2" fill="none" stroke="#000" stroke-width="2" stroke-linecap="butt"/>
<circle cx="351.3" cy="153.1" r="3.3" fill="none" stroke="#000" stroke-width="2"/>
<circle cx="368.6" cy="153.1" r="3.3" fill="none" stroke="#000" stroke-width="2"/>
<path d="M376.6,161.6 L394.9,144.6 M391.4,147.8 l4.6,2.6" fill="none" stroke="#000" stroke-width="2" stroke-linecap="butt"/>
<path d="M393.3,160.9 L412.7,145.3 l8.7,5.8" fill="none" stroke="#000" stroke-width="2" stroke-linecap="butt"/>
<path d="M411.1,161.6 L429.4,144.6 M426.0,147.8 l4.6,2.6" fill="none" stroke="#000" stroke-width="2" stroke-linecap="butt"/>
<path d="M428.6,161.8 L446.5,144.4 M443.2,147.7 l4.6,2.5" fill="none" stroke="#000" stroke-width="2" stroke-linecap="butt"/>
<path d="M445.5,161.4 L464.2,144.8 M460.7,147.9 l4.5,2.7" fill="none" stroke="#000" stroke-width="2" stroke-linecap="butt"/>
<circle cx="472.2" cy="153.1" r="3.3" fill="none" stroke="#000" stroke-width="2"/>
<circle cx="489.5" cy="153.1" r="3.3" fill="none" stroke="#000" stroke-width="2"/>
<path d="M518.8,156.0 L494.5,150.2 M499.1,151.3 l-0.4,-5.2" fill="none" stroke="#000" stroke-width="2" stroke-linecap="butt"/>
<path d="M519.6,164.8 L528.3,141.4 M526.6,145.8 l5.2,0.3" fill="none" stroke="#000" stroke-width="2" stroke-linecap="butt"/>
<path d="M534.6,163.7 L547.8,142.5 M545.3,146.5 l5.1,1.3" fill="none" stroke="#000" stroke-width="2" stroke-linecap="butt"/>
<path d="M551.9,163.7 L565.1,142.5 M562.6,146.5 l5.1,1.3" fill="none" stroke="#000" stroke-width="2" stroke-linecap="butt"/>
<path d="M570.2,164.3 L581.3,141.9 M579.2,146.1 l5.2,0.8" fill="none" stroke="#000" stroke-width="2" stroke-linecap="butt"/>
<path d="M588.3,164.7 L597.8,141.5 M596.0,145.9 l5.2,0.4" fill="none" stroke="#000" stroke-width="2" stroke-linecap="butt"/>
<path d="M605.5,164.6 L615.1,141.6 M613.3,145.9 l5.2,0.5" fill="none" stroke="#000" stroke-width="2" stroke-linecap="butt"/>
<path d="M624.4,165.2 L630.8,141.0 M629.6,145.6 l5.2,-0.2" fill="none" stroke="#000" stroke-width="2" stroke-linecap="butt"/>
<path d="M643.0,165.5 L646.7,140.7 M646.0,145.4 l5.2,-0.8" fill="none" stroke="#000" stroke-width="2" stroke-linecap="butt"/>
<path d="M658.5,165.1 L665.7,141.1 M664.4,145.6 l5.2,-0.1" fill="none" stroke="#000" stroke-width="2" stroke-linecap="butt"/>
<path d="M674.8,164.7 L684.0,141.5 M682.3,145.9 l5.2,0.4" fill="none" stroke="#000" stroke-width="2" stroke-linecap="butt"/>
<path d="M691.4,164.4 L701.9,141.8 M699.9,146.0 l5.2,0.7" fill="none" stroke="#000" stroke-width="2" stroke-linecap="butt"/>
<path d="M709.7,164.8 L718.2,141.4 M716.6,145.8 l5.2,0.2" fill="none" stroke="#000" stroke-width="2" stroke-linecap="butt"/>
<path d="M727.5,165.0 L735.0,141.2 M733.6,145.7 l5.2,0.0" fill="none" stroke="#000" stroke-width="2" stroke-linecap="butt"/>
<path d="M745.4,165.2 L751.6,141.0 M750.5,145.6 l5.2,-0.3" fill="none" stroke="#000" stroke-width="2" stroke-linecap="butt"/>
<path d="M770.2,164.8 L761.3,141.4 M763.0,145.8 l4.1,-3.2" fill="none" stroke="#000" stroke-width="2" stroke-linecap="butt"/>
<path d="M788.7,164.3 L777.4,141.9 M779.5,146.1 l3.8,-3.6" fill="none" stroke="#000" stroke-width="2" stroke-linecap="butt"/>
<path d="M798.1,165.4 L802.5,140.8 M801.7,145.4 l5.2,-0.7" fill="none" stroke="#000" stroke-width="2" stroke-linecap="butt"/>
<path d="M811.5,164.0 L823.7,142.2 M821.4,146.3 l5.1,1.1" fill="none" stroke="#000" stroke-width="2" stroke-linecap="butt"/>
<path d="M827.7,163.3 L842.1,142.9 M839.4,146.7 l5.0,1.6" fill="none" stroke="#000" stroke-width="2" stroke-linecap="butt"/>
<path d="M844.0,162.6 L860.3,143.6 M857.2,147.2 l4.8,2.1" fill="none" stroke="#000" stroke-width="2" stroke-linecap="butt"/>
<path d="M860.3,161.6 L878.6,144.6 M875.1,147.8 l4.6,2.6" fill="none" stroke="#000" stroke-width="2" stroke-linecap="butt"/>
<circle cx="886.8" cy="153.1" r="3.3" fill="none" stroke="#000" stroke-width="2"/>
<path d="M916.2,150.4 L891.8,155.8 M896.4,154.8 l-2.6,-4.6" fill="none" stroke="#000" stroke-width="2" stroke-linecap="butt"/>
<path d="M933.4,156.1 L909.1,150.1 M913.7,151.2 l-0.3,-5.2" fill="none" stroke="#000" stroke-width="2" stroke-linecap="butt"/>
<path d="M934.3,164.9 L942.8,141.3 M941.2,145.8 l5.2,0.2" fill="none" stroke="#000" stroke-width="2" stroke-linecap="butt"/>
<path d="M946.4,161.4 L965.2,144.8 M961.6,147.9 l4.5,2.7" fill="none" stroke="#000" stroke-width="2" stroke-linecap="butt"/>
<path d="M963.9,161.6 L982.3,144.6 M978.8,147.8 l4.5,2.6" fill="none" stroke="#000" stroke-width="2" stroke-linecap="butt"/>
<path d="M981.9,162.3 L998.8,143.9 M995.6,147.3 l4.7,2.2" fill="none" stroke="#000" stroke-width="2" stroke-linecap="butt"/>
<path d="M1000.2,163.2 L1015.0,143.0 M1012.2,146.8 l5.0,1.7" fill="none" stroke="#000" stroke-width="2" stroke-linecap="butt"/>
<circle cx="1025.0" cy="153.1" r="3.3" fill="none" stroke="#000" stroke-width="2"/>
<path d="M1053.4,158.6 L1031.0,147.6 M1035.2,149.7 l0.8,-5.2" fill="none" stroke="#000" stroke-width="2" stroke-linecap="butt"/>
<path d="M1066.8,163.2 L1052.1,143.0 M1054.9,146.8 l3.1,-4.2" fill="none" stroke="#000" stroke-width="2" stroke-linecap="butt"/>
<path d="M1071.4,164.4 L1082.0,141.8 M1080.0,146.0 l5.2,0.7" fill="none" stroke="#000" stroke-width="2" stroke-linecap="butt"/>
<path d="M1084.1,160.7 L1103.9,145.5 M1100.2,148.4 l4.3,3.0" fill="none" stroke="#000" stroke-width="2" stroke-linecap="butt"/>
<path d="M127.5,97.5 H1094.4 V359.4" fill="none" stroke="#2a2a2a" stroke-width="1.05"/>
<path d="M127.55,97.0 V359.4 H1095.0" fill="none" stroke="#000" stroke-width="1.3"/>
<text opacity="0.999" transform="translate(9.20,22.00)" font-size="16.1" text-anchor="start" fill="#0000ff" >(kraj lahko izberete v meniju)</text>
<text opacity="0.999" transform="translate(1142.30,22.00)" font-size="16" text-anchor="end" fill="#0000ff" >Zadnja posodobitev: 14.10.2025 - 08:07</text>
<text opacity="0.999" transform="translate(484.50,38.10)" font-size="24" text-anchor="middle" fill="#0000ff" >Pakoštane 7 dni</text>
<text opacity="0.999" transform="translate(196.60,69.00) scale(1.15,1)" font-size="17" text-anchor="middle" fill="#000" stroke="#000" stroke-width="0.18">torek</text>
<text opacity="0.999" transform="translate(196.60,89.80) scale(1.15,1)" font-size="17" text-anchor="middle" fill="#000" stroke="#000" stroke-width="0.18">14.10</text>
<text opacity="0.999" transform="translate(160.85,376.90) scale(1.15,1)" font-size="17" text-anchor="middle" fill="#000" stroke="#000" stroke-width="0.18">06</text>
<text opacity="0.999" transform="translate(195.40,376.90) scale(1.15,1)" font-size="17" text-anchor="middle" fill="#000" stroke="#000" stroke-width="0.18">12</text>
<text opacity="0.999" transform="translate(229.95,376.90) scale(1.15,1)" font-size="17" text-anchor="middle" fill="#000" stroke="#000" stroke-width="0.18">18</text>
<text opacity="0.999" transform="translate(334.80,69.00) scale(1.15,1)" font-size="17" text-anchor="middle" fill="#000" stroke="#000" stroke-width="0.18">sreda</text>
<text opacity="0.999" transform="translate(334.80,89.80) scale(1.15,1)" font-size="17" text-anchor="middle" fill="#000" stroke="#000" stroke-width="0.18">15.10</text>
<text opacity="0.999" transform="translate(299.05,376.90) scale(1.15,1)" font-size="17" text-anchor="middle" fill="#000" stroke="#000" stroke-width="0.18">06</text>
<text opacity="0.999" transform="translate(333.60,376.90) scale(1.15,1)" font-size="17" text-anchor="middle" fill="#000" stroke="#000" stroke-width="0.18">12</text>
<text opacity="0.999" transform="translate(368.15,376.90) scale(1.15,1)" font-size="17" text-anchor="middle" fill="#000" stroke="#000" stroke-width="0.18">18</text>
<text opacity="0.999" transform="translate(265.20,376.90) scale(1.15,1)" font-size="17" text-anchor="middle" fill="#000" stroke="#000" stroke-width="0.18">sre</text>
<text opacity="0.999" transform="translate(473.00,69.00) scale(1.15,1)" font-size="17" text-anchor="middle" fill="#000" stroke="#000" stroke-width="0.18">četrtek</text>
<text opacity="0.999" transform="translate(473.00,89.80) scale(1.15,1)" font-size="17" text-anchor="middle" fill="#000" stroke="#000" stroke-width="0.18">16.10</text>
<text opacity="0.999" transform="translate(437.25,376.90) scale(1.15,1)" font-size="17" text-anchor="middle" fill="#000" stroke="#000" stroke-width="0.18">06</text>
<text opacity="0.999" transform="translate(471.80,376.90) scale(1.15,1)" font-size="17" text-anchor="middle" fill="#000" stroke="#000" stroke-width="0.18">12</text>
<text opacity="0.999" transform="translate(506.35,376.90) scale(1.15,1)" font-size="17" text-anchor="middle" fill="#000" stroke="#000" stroke-width="0.18">18</text>
<text opacity="0.999" transform="translate(403.40,376.90) scale(1.15,1)" font-size="17" text-anchor="middle" fill="#000" stroke="#000" stroke-width="0.18">čet</text>
<text opacity="0.999" transform="translate(611.20,69.00) scale(1.15,1)" font-size="17" text-anchor="middle" fill="#000" stroke="#000" stroke-width="0.18">petek</text>
<text opacity="0.999" transform="translate(611.20,89.80) scale(1.15,1)" font-size="17" text-anchor="middle" fill="#000" stroke="#000" stroke-width="0.18">17.10</text>
<text opacity="0.999" transform="translate(575.45,376.90) scale(1.15,1)" font-size="17" text-anchor="middle" fill="#000" stroke="#000" stroke-width="0.18">06</text>
<text opacity="0.999" transform="translate(610.00,376.90) scale(1.15,1)" font-size="17" text-anchor="middle" fill="#000" stroke="#000" stroke-width="0.18">12</text>
<text opacity="0.999" transform="translate(644.55,376.90) scale(1.15,1)" font-size="17" text-anchor="middle" fill="#000" stroke="#000" stroke-width="0.18">18</text>
<text opacity="0.999" transform="translate(541.60,376.90) scale(1.15,1)" font-size="17" text-anchor="middle" fill="#000" stroke="#000" stroke-width="0.18">pet</text>
<text opacity="0.999" transform="translate(749.40,69.00) scale(1.15,1)" font-size="17" text-anchor="middle" fill="#cc0000" stroke="#cc0000" stroke-width="0.18">sobota</text>
<text opacity="0.999" transform="translate(749.40,89.80) scale(1.15,1)" font-size="17" text-anchor="middle" fill="#cc0000" stroke="#cc0000" stroke-width="0.18">18.10</text>
<text opacity="0.999" transform="translate(713.65,376.90) scale(1.15,1)" font-size="17" text-anchor="middle" fill="#000" stroke="#000" stroke-width="0.18">06</text>
<text opacity="0.999" transform="translate(748.20,376.90) scale(1.15,1)" font-size="17" text-anchor="middle" fill="#000" stroke="#000" stroke-width="0.18">12</text>
<text opacity="0.999" transform="translate(782.75,376.90) scale(1.15,1)" font-size="17" text-anchor="middle" fill="#000" stroke="#000" stroke-width="0.18">18</text>
<text opacity="0.999" transform="translate(679.80,376.90) scale(1.15,1)" font-size="17" text-anchor="middle" fill="#000" stroke="#000" stroke-width="0.18">sob</text>
<text opacity="0.999" transform="translate(887.60,69.00) scale(1.15,1)" font-size="17" text-anchor="middle" fill="#cc0000" stroke="#cc0000" stroke-width="0.18">nedelja</text>
<text opacity="0.999" transform="translate(887.60,89.80) scale(1.15,1)" font-size="17" text-anchor="middle" fill="#cc0000" stroke="#cc0000" stroke-width="0.18">19.10</text>
<text opacity="0.999" transform="translate(851.85,376.90) scale(1.15,1)" font-size="17" text-anchor="middle" fill="#000" stroke="#000" stroke-width="0.18">06</text>
<text opacity="0.999" transform="translate(886.40,376.90) scale(1.15,1)" font-size="17" text-anchor="middle" fill="#000" stroke="#000" stroke-width="0.18">12</text>
<text opacity="0.999" transform="translate(920.95,376.90) scale(1.15,1)" font-size="17" text-anchor="middle" fill="#000" stroke="#000" stroke-width="0.18">18</text>
<text opacity="0.999" transform="translate(818.00,376.90) scale(1.15,1)" font-size="17" text-anchor="middle" fill="#000" stroke="#000" stroke-width="0.18">ned</text>
<text opacity="0.999" transform="translate(1025.80,69.00) scale(1.15,1)" font-size="17" text-anchor="middle" fill="#000" stroke="#000" stroke-width="0.18">ponedeljek</text>
<text opacity="0.999" transform="translate(1025.80,89.80) scale(1.15,1)" font-size="17" text-anchor="middle" fill="#000" stroke="#000" stroke-width="0.18">20.10</text>
<text opacity="0.999" transform="translate(990.05,376.90) scale(1.15,1)" font-size="17" text-anchor="middle" fill="#000" stroke="#000" stroke-width="0.18">06</text>
<text opacity="0.999" transform="translate(1024.60,376.90) scale(1.15,1)" font-size="17" text-anchor="middle" fill="#000" stroke="#000" stroke-width="0.18">12</text>
<text opacity="0.999" transform="translate(1059.15,376.90) scale(1.15,1)" font-size="17" text-anchor="middle" fill="#000" stroke="#000" stroke-width="0.18">18</text>
<text opacity="0.999" transform="translate(956.20,376.90) scale(1.15,1)" font-size="17" text-anchor="middle" fill="#000" stroke="#000" stroke-width="0.18">pon</text>
<text opacity="0.999" transform="translate(46.60,365.50) scale(1.15,1)" font-size="17" text-anchor="start" fill="#ff0000" stroke="#ff0000" stroke-width="0.18">2</text>
<text opacity="0.999" transform="translate(123.00,365.50) scale(1.15,1)" font-size="17" text-anchor="end" fill="#000" stroke="#000" stroke-width="0.18">0</text>
<text opacity="0.999" transform="translate(46.60,328.12) scale(1.15,1)" font-size="17" text-anchor="start" fill="#ff0000" stroke="#ff0000" stroke-width="0.18">7</text>
<text opacity="0.999" transform="translate(123.00,328.12) scale(1.15,1)" font-size="17" text-anchor="end" fill="#000" stroke="#000" stroke-width="0.18">1</text>
<text opacity="0.999" transform="translate(46.60,290.74) scale(1.15,1)" font-size="17" text-anchor="start" fill="#ff0000" stroke="#ff0000" stroke-width="0.18">12</text>
<text opacity="0.999" transform="translate(123.00,290.74) scale(1.15,1)" font-size="17" text-anchor="end" fill="#000" stroke="#000" stroke-width="0.18">2</text>
<text opacity="0.999" transform="translate(46.60,253.36) scale(1.15,1)" font-size="17" text-anchor="start" fill="#ff0000" stroke="#ff0000" stroke-width="0.18">16</text>
<text opacity="0.999" transform="translate(123.00,253.36) scale(1.15,1)" font-size="17" text-anchor="end" fill="#000" stroke="#000" stroke-width="0.18">3</text>
<text opacity="0.999" transform="translate(46.60,215.98) scale(1.15,1)" font-size="17" text-anchor="start" fill="#ff0000" stroke="#ff0000" stroke-width="0.18">21</text>
<text opacity="0.999" transform="translate(123.00,215.98) scale(1.15,1)" font-size="17" text-anchor="end" fill="#000" stroke="#000" stroke-width="0.18">4</text>
<text opacity="0.999" transform="translate(46.60,178.60) scale(1.15,1)" font-size="17" text-anchor="start" fill="#ff0000" stroke="#ff0000" stroke-width="0.18">26</text>
<text opacity="0.999" transform="translate(123.00,178.60) scale(1.15,1)" font-size="17" text-anchor="end" fill="#000" stroke="#000" stroke-width="0.18">5</text>
<text opacity="0.999" transform="translate(1099.20,365.80) scale(1.15,1)" font-size="17" text-anchor="start" fill="#000" stroke="#000" stroke-width="0.18">0</text>
<text opacity="0.999" transform="translate(1099.20,328.42) scale(1.15,1)" font-size="17" text-anchor="start" fill="#000" stroke="#000" stroke-width="0.18">1.5</text>
<text opacity="0.999" transform="translate(1099.20,291.04) scale(1.15,1)" font-size="17" text-anchor="start" fill="#000" stroke="#000" stroke-width="0.18">3.5</text>
<text opacity="0.999" transform="translate(1099.20,253.66) scale(1.15,1)" font-size="17" text-anchor="start" fill="#000" stroke="#000" stroke-width="0.18">6.0</text>
<text opacity="0.999" transform="translate(1099.20,216.28) scale(1.15,1)" font-size="17" text-anchor="start" fill="#000" stroke="#000" stroke-width="0.18">9.0</text>
<text opacity="0.999" transform="translate(1099.20,178.90) scale(1.15,1)" font-size="17" text-anchor="start" fill="#000" stroke="#000" stroke-width="0.18">14</text>
<text opacity="0.999" transform="translate(35.20,267.20) rotate(-90) scale(1.019,1)" font-size="21" text-anchor="middle" fill="#ff0000" stroke="#ff0000" stroke-width="0.18">Temperatura (°C)</text>
<text opacity="0.999" transform="translate(99.80,263.70) rotate(-90) scale(1.032,1)" font-size="21" text-anchor="middle" fill="#000" stroke="#000" stroke-width="0.18">Padavine (mm/h)</text>
<text opacity="0.999" transform="translate(1145.20,254.80) rotate(-90) scale(1.037,1)" font-size="21" text-anchor="middle" fill="#000" stroke="#000" stroke-width="0.18">Višina oblakov (km)</text>
<text opacity="0.999" transform="translate(155.60,305.50) scale(1.15,1)" font-size="17" text-anchor="middle" fill="#000" stroke="#000" stroke-width="0.18">12</text>
<text opacity="0.999" transform="translate(206.50,229.00) scale(1.15,1)" font-size="17" text-anchor="middle" fill="#000" stroke="#000" stroke-width="0.18">21</text>
<text opacity="0.999" transform="translate(293.40,302.20) scale(1.15,1)" font-size="17" text-anchor="middle" fill="#000" stroke="#000" stroke-width="0.18">12</text>
<text opacity="0.999" transform="translate(344.80,227.00) scale(1.15,1)" font-size="17" text-anchor="middle" fill="#000" stroke="#000" stroke-width="0.18">22</text>
<text opacity="0.999" transform="translate(432.60,303.00) scale(1.15,1)" font-size="17" text-anchor="middle" fill="#000" stroke="#000" stroke-width="0.18">12</text>
<text opacity="0.999" transform="translate(483.50,229.00) scale(1.15,1)" font-size="17" text-anchor="middle" fill="#000" stroke="#000" stroke-width="0.18">21</text>
<text opacity="0.999" transform="translate(570.40,304.20) scale(1.15,1)" font-size="17" text-anchor="middle" fill="#000" stroke="#000" stroke-width="0.18">12</text>
<text opacity="0.999" transform="translate(627.60,242.30) scale(1.15,1)" font-size="17" text-anchor="middle" fill="#000" stroke="#000" stroke-width="0.18">20</text>
<text opacity="0.999" transform="translate(708.80,315.50) scale(1.15,1)" font-size="17" text-anchor="middle" fill="#000" stroke="#000" stroke-width="0.18">10</text>
<text opacity="0.999" transform="translate(759.70,236.00) scale(1.15,1)" font-size="17" text-anchor="middle" fill="#000" stroke="#000" stroke-width="0.18">21</text>
<text opacity="0.999" transform="translate(846.70,320.50) scale(1.15,1)" font-size="17" text-anchor="middle" fill="#000" stroke="#000" stroke-width="0.18">10</text>
<text opacity="0.999" transform="translate(898.80,248.60) scale(1.15,1)" font-size="17" text-anchor="middle" fill="#000" stroke="#000" stroke-width="0.18">19</text>
<text opacity="0.999" transform="translate(979.40,333.50) scale(1.15,1)" font-size="17" text-anchor="middle" fill="#000" stroke="#000" stroke-width="0.18">8</text>
<text opacity="0.999" transform="translate(1036.90,247.30) scale(1.15,1)" font-size="17" text-anchor="middle" fill="#000" stroke="#000" stroke-width="0.18">19</text>
<text opacity="0.999" transform="translate(1094.00,306.70) scale(1.15,1)" font-size="17" text-anchor="middle" fill="#000" stroke="#000" stroke-width="0.18">11</text>
<rect x="127.1" y="390.1" width="31.9" height="10.7" fill="#0050ff"/>
<rect x="165" y="386.2" width="105" height="19.6" fill="#fff"/>
<text opacity="0.999" transform="translate(168.30,401.70) scale(1.13,1)" font-size="17.3" text-anchor="start" fill="#000" stroke="#000" stroke-width="0.18">Dež</text>
<rect x="278" y="390.1" width="31.9" height="10.7" fill="#11d8c6"/>
<rect x="310" y="386.2" width="110.5" height="19.6" fill="#fdfdfd"/>
<text opacity="0.999" transform="translate(318.20,401.70) scale(1.13,1)" font-size="17.3" text-anchor="start" fill="#000" stroke="#000" stroke-width="0.18">Možnost ploh</text>
<text opacity="0.999" transform="translate(499.30,401.70)" font-size="15.9" text-anchor="start" fill="#0000ff" >© vreme.us &amp; vreme.pro</text>
<rect x="759.7" y="386.2" width="179.3" height="19" fill="#fff"/>
<text opacity="0.999" transform="translate(760.40,401.60) scale(1.13,1)" font-size="17.3" text-anchor="start" fill="#000" stroke="#000" stroke-width="0.18">Gostota oblakov (%)</text>
<rect x="949.3" y="385.3" width="29.4" height="13.2" fill="#d2d2d2"/>
<rect x="978.4" y="385.3" width="29.4" height="13.2" fill="#b2b2b2"/>
<rect x="1007.5" y="385.3" width="29.4" height="13.2" fill="#929292"/>
<rect x="1036.5" y="385.3" width="29.4" height="13.2" fill="#727272"/>
<rect x="1065.6" y="385.3" width="29.4" height="13.2" fill="#525252"/>
<rect x="949.3" y="385.3" width="145.4" height="13.2" fill="none" stroke="#333" stroke-width="0.8"/>
<text opacity="0.999" transform="translate(949.30,415.50) scale(1.13,1)" font-size="14.2" text-anchor="middle" fill="#000" stroke="#000" stroke-width="0.18">10</text>
<text opacity="0.999" transform="translate(978.38,415.50) scale(1.13,1)" font-size="14.2" text-anchor="middle" fill="#000" stroke="#000" stroke-width="0.18">25</text>
<text opacity="0.999" transform="translate(1007.46,415.50) scale(1.13,1)" font-size="14.2" text-anchor="middle" fill="#000" stroke="#000" stroke-width="0.18">50</text>
<text opacity="0.999" transform="translate(1036.54,415.50) scale(1.13,1)" font-size="14.2" text-anchor="middle" fill="#000" stroke="#000" stroke-width="0.18">75</text>
<text opacity="0.999" transform="translate(1065.62,415.50) scale(1.13,1)" font-size="14.2" text-anchor="middle" fill="#000" stroke="#000" stroke-width="0.18">90</text>
<text opacity="0.999" transform="translate(1094.70,415.50) scale(1.13,1)" font-size="14.2" text-anchor="middle" fill="#000" stroke="#000" stroke-width="0.18">100</text>
</svg>
</body></html>
